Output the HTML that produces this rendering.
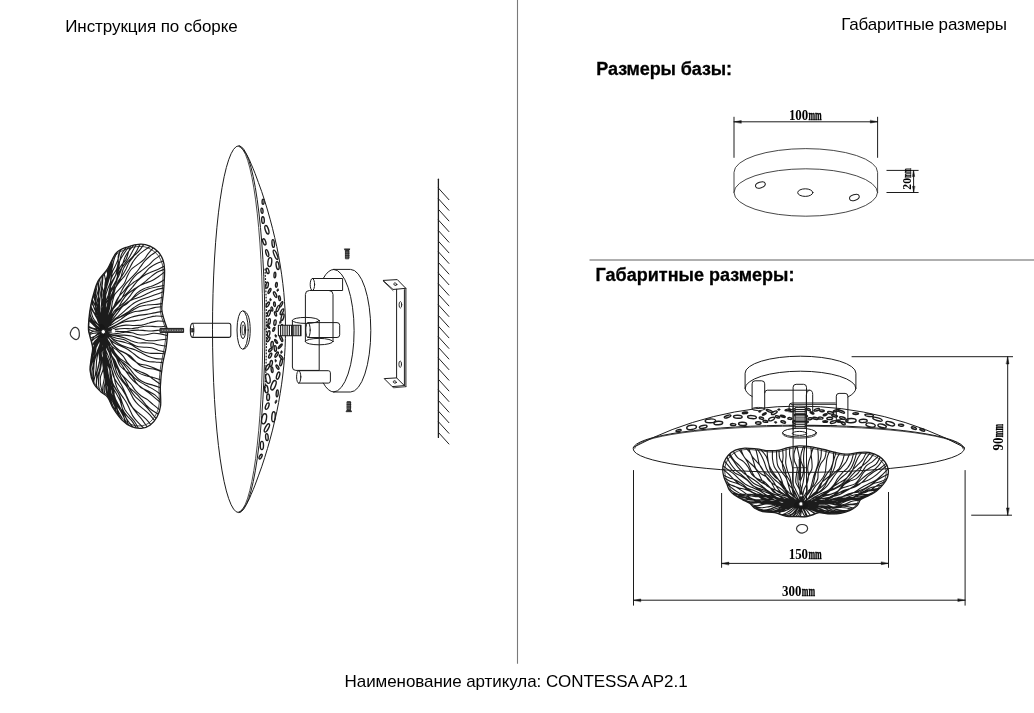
<!DOCTYPE html>
<html lang="ru"><head><meta charset="utf-8"><title>CONTESSA AP2.1</title>
<style>html,body{margin:0;padding:0;background:#fff}body{width:1034px;height:713px;overflow:hidden;position:relative}svg{position:absolute;left:0;top:0;display:block;will-change:transform}.g{fill:none;stroke:#1c1c1c;stroke-linecap:round;stroke-linejoin:round}text{font-family:"Liberation Sans",sans-serif;fill:#000}.s{font-family:"Liberation Serif",serif;font-weight:bold;font-size:13.5px}</style></head><body>
<svg width="1034" height="713" viewBox="0 0 1034 713">
<rect width="1034" height="713" fill="#fff"/>
<path d="M517.5 0V663.8" stroke="#7a7a7a" stroke-width="1.1" fill="none"/>
<path d="M589.5 260H1034" stroke="#606060" stroke-width="1.2" fill="none"/>
<g class="g">
<clipPath id="fc1"><path d="M140.6 244.1C144.4 244 147.1 244.9 150 246.2C152.9 247.5 155.9 249.5 158.1 251.8C160.3 254.1 161.9 257 163 260C164.1 263 164.5 264.8 164.6 270C164.7 275.2 164.1 284.4 163.6 291C163.1 297.6 161.7 304.3 161.8 309.3C162 314.3 163.6 317.4 164.5 321C165.4 324.6 167.2 326.7 167.5 331C167.8 335.3 167 341.1 166.2 346.8C165.4 352.5 163.5 358.5 162.5 365C161.5 371.5 160.7 379.2 160.4 386C160.1 392.8 161.2 400.5 160.6 405.7C160 410.9 158.8 413.7 157 417C155.2 420.3 152.6 423.4 150 425.3C147.4 427.2 144.4 428.1 141.3 428.3C138.2 428.5 134.8 428.1 131.5 426.7C128.2 425.3 124.7 422.7 121.7 419.7C118.7 416.7 115.6 412.2 113.3 408.5C111 404.8 109.8 400.1 107.7 397.3C105.6 394.5 103.1 394 100.7 391.7C98.3 389.4 95.4 386.8 93.6 383.3C91.8 379.8 90.5 374.9 90.1 370.7C89.7 366.5 90.9 361.8 91.3 358C91.7 354.2 92.8 351.7 92.6 348.2C92.4 344.7 90.8 340 90.1 337C89.4 334 88.7 333 88.5 330C88.3 327 88.5 323.2 88.9 319C89.3 314.8 90 309.2 90.8 305C91.6 300.8 92.4 297.8 93.6 293.9C94.8 289.9 95.6 285.5 97.9 281.3C100.2 277.1 104.7 273.3 107.7 268.6C110.7 263.9 112.7 256.8 116 253.2C119.3 249.6 123.2 248.5 127.3 247C131.4 245.5 136.8 244.2 140.6 244.1Z"/></clipPath>
<g clip-path="url(#fc1)"><path d="M103.5 331.7C103.6 330.4 103.5 326.4 104 324C104.5 321.5 105.7 319.4 106.5 317.1C107.3 314.8 108.4 312.6 109 310.2C109.6 307.8 109.7 305.2 110 302.7C110.4 300.2 110.6 297.6 111.4 295.3C112.1 293 113.5 290.9 114.8 288.8C116 286.7 117.7 284.7 118.8 282.6C119.9 280.4 120.6 278 121.4 275.7C122.1 273.4 122.4 270.8 123.5 268.6C124.5 266.4 125.9 264.3 127.4 262.3C128.9 260.4 131.1 258.6 132.7 256.6C134.3 254.7 135.7 252.6 136.9 250.5C138.1 248.3 139.5 245 140 243.9M103.5 331.7C103.8 330.5 104.7 326.8 105.2 324.3C105.6 321.8 105.9 319.2 106.3 316.7C106.7 314.1 106.8 311.5 107.5 309.1C108.2 306.7 109.4 304.5 110.4 302.2C111.4 300 112.5 297.8 113.3 295.4C114.1 293.1 114.5 290.5 115.3 288.2C116.1 285.8 117 283.5 118.2 281.4C119.4 279.2 121.2 277.3 122.5 275.2C123.8 273.1 125 270.9 126.2 268.7C127.3 266.5 128 264.1 129.3 262C130.6 259.9 132.3 258 134 256C135.7 254.1 137.9 252.4 139.5 250.4C141.2 248.4 143.2 245.3 143.9 244.3M103.5 331.7C103.6 330.4 103.7 326.1 104.2 323.6C104.8 321.1 106 318.9 106.8 316.5C107.7 314.1 108.6 311.8 109.3 309.3C110 306.9 110.3 304.2 110.9 301.7C111.4 299.1 111.8 296.5 112.5 294.1C113.3 291.7 114.3 289.4 115.6 287.2C116.8 285.1 118.5 283.1 120.1 281.2C121.7 279.2 123.5 277.3 125 275.3C126.5 273.2 127.8 271.1 129.1 269C130.3 266.8 131.3 264.5 132.6 262.4C134 260.3 135.3 258.2 137.1 256.3C138.8 254.4 141 252.7 143.2 251.1C145.4 249.4 149 247.1 150.2 246.4M103.5 331.7C103.6 330.3 103.7 326 104.4 323.5C105.1 321 106.6 318.9 107.7 316.7C108.8 314.4 110.2 312.4 111 310C111.8 307.5 111.8 304.6 112.4 302C113 299.5 113.5 296.8 114.7 294.6C115.9 292.4 118.1 290.8 119.7 288.9C121.3 287 123.3 285.2 124.5 283.1C125.8 280.9 126.3 278.3 127.4 276.1C128.5 273.8 129.4 271.4 131.1 269.5C132.7 267.6 135.3 266.3 137.4 264.6C139.6 263 142 261.6 143.8 259.7C145.6 257.9 146.6 255.6 148.2 253.6C149.7 251.7 152.3 248.9 153.2 247.9M103.5 331.7C103.9 330.5 105.1 326.8 105.8 324.3C106.6 321.8 107 319.1 108 316.8C108.9 314.4 110.2 312.3 111.4 310.1C112.7 307.9 114.2 306 115.4 303.8C116.7 301.6 117.8 299.4 118.8 297.1C119.9 294.8 120.7 292.4 121.9 290.2C123 287.9 124.3 285.8 125.8 283.8C127.3 281.8 129.2 280 130.9 278.2C132.6 276.4 134.5 274.6 136.1 272.7C137.7 270.8 139.1 268.7 140.6 266.7C142.1 264.7 143.4 262.6 145.1 260.7C146.8 258.9 148.7 257.2 150.7 255.5C152.8 253.9 156.2 251.7 157.3 250.9M103.5 331.7C103.8 330.4 104.7 326.5 105.6 324.1C106.5 321.7 107.8 319.6 108.9 317.4C110.1 315.2 111.3 313.1 112.3 310.8C113.3 308.5 114 305.9 115 303.6C116 301.3 117.2 299.1 118.5 297.1C119.9 295.1 121.8 293.4 123.4 291.6C124.9 289.7 126.5 287.8 128 285.8C129.4 283.8 130.5 281.6 132 279.7C133.5 277.7 135.1 275.9 136.9 274.2C138.7 272.5 141 271.2 143 269.6C145 268.1 147 266.5 148.9 264.9C150.7 263.2 152.3 261.3 154.2 259.7C156.1 258.1 159.5 256 160.5 255.3M103.5 331.7C104 330.6 105.8 327.4 106.7 325.1C107.6 322.7 108.1 320 108.9 317.6C109.8 315.2 110.5 312.7 111.8 310.6C113 308.5 114.8 306.9 116.3 305.1C117.8 303.3 119.6 301.6 120.9 299.6C122.3 297.6 123.2 295.3 124.4 293.2C125.6 291.1 126.6 288.9 128.2 287C129.7 285.2 131.8 283.8 133.7 282.3C135.7 280.9 138 279.7 139.8 278.1C141.7 276.6 143.2 274.8 144.9 273C146.5 271.3 147.9 269.3 149.7 267.7C151.6 266.2 153.9 265 156.2 263.8C158.5 262.6 162.5 261.3 163.7 260.8M103.5 331.7C104.1 330.5 105.9 327.1 107 324.7C108.1 322.3 109 319.7 109.9 317.2C110.9 314.7 111.6 312 112.7 309.6C113.9 307.3 115.2 305.1 116.8 303.1C118.3 301.2 120.2 299.5 122.1 297.8C123.9 296.1 125.9 294.5 127.6 292.7C129.4 290.9 130.9 289 132.6 287C134.2 285.1 135.6 283 137.3 281.2C139 279.4 140.9 277.7 143 276.2C145.1 274.8 147.6 273.7 150.1 272.6C152.6 271.4 155.3 270.5 157.8 269.4C160.3 268.3 163.8 266.4 165 265.8M103.5 331.7C104 330.5 105.2 326.5 106.3 324.3C107.5 322 109 320.1 110.4 318.1C111.9 316.2 113.6 314.5 115 312.5C116.5 310.5 117.8 308.4 119.1 306.3C120.4 304.2 121.5 301.9 122.9 299.9C124.3 297.8 125.7 295.9 127.5 294.2C129.2 292.5 131.2 291.1 133.3 289.7C135.3 288.3 137.6 287.2 139.6 285.8C141.6 284.4 143.6 282.9 145.5 281.4C147.4 279.8 149 278.1 151 276.6C152.9 275.1 154.8 273.6 157 272.3C159.2 271.1 163.1 269.8 164.3 269.3M103.5 331.7C104.1 330.7 106.3 327.8 107.4 325.5C108.5 323.3 109.1 320.6 110.2 318.3C111.3 316 112.3 313.7 113.7 311.8C115.2 309.9 117.1 308.4 118.8 306.9C120.6 305.4 122.7 304.1 124.4 302.5C126.1 300.9 127.7 299.1 129.1 297.2C130.6 295.4 131.7 293.1 133.3 291.3C134.8 289.6 136.5 287.9 138.4 286.5C140.4 285.2 142.9 284.3 145.2 283.3C147.5 282.3 150 281.6 152.2 280.5C154.4 279.4 156.4 278 158.3 276.7C160.3 275.3 163.1 273.1 164 272.4M103.5 331.7C104.2 330.7 106.6 327.9 108 325.7C109.3 323.6 110.3 321 111.6 318.8C112.8 316.5 114 314.1 115.6 312.3C117.1 310.4 119.2 309 121.1 307.6C123 306.1 125.3 305 127.1 303.5C129 301.9 130.6 300.1 132.3 298.4C134 296.6 135.4 294.5 137.2 292.9C139.1 291.3 141.1 290 143.4 288.9C145.6 287.9 148.4 287.3 150.8 286.5C153.2 285.6 155.7 284.8 157.9 283.6C160.2 282.5 163.2 280.5 164.2 279.8M103.5 331.7C104.2 330.5 106.4 327.1 107.8 324.7C109.2 322.3 110.4 319.7 111.8 317.5C113.3 315.2 114.8 313 116.6 311.1C118.3 309.2 120.3 307.6 122.3 306C124.3 304.4 126.5 303 128.6 301.5C130.6 300 132.6 298.4 134.7 296.9C136.7 295.4 138.7 293.7 140.9 292.4C143.1 291.1 145.5 290 148 289.1C150.5 288.2 153.3 287.6 156.1 287C158.8 286.3 163 285.6 164.4 285.3M103.5 331.7C104.2 330.5 106.1 326.8 107.6 324.7C109.1 322.6 111 321 112.7 319.1C114.3 317.2 115.9 315.1 117.5 313.1C119.1 311 120.5 308.8 122.2 306.9C123.9 305.1 125.7 303.4 127.8 302.1C129.9 300.7 132.3 299.8 134.6 298.8C136.9 297.9 139.4 297.2 141.8 296.2C144.1 295.2 146.3 294.1 148.6 293C150.9 292 153 290.7 155.4 289.9C157.9 289 161.9 288.4 163.3 288.1M103.5 331.7C104.3 330.7 106.4 327.3 108 325.4C109.6 323.6 111.5 321.9 113.3 320.3C115.1 318.7 117.1 317.4 118.9 315.8C120.8 314.3 122.6 312.7 124.4 311.1C126.2 309.5 128 307.7 129.9 306.2C131.8 304.8 133.7 303.3 135.8 302.1C137.9 301 140.2 300 142.5 299.1C144.8 298.3 147.2 297.6 149.6 296.8C151.9 296 154.3 295.2 156.6 294.3C158.9 293.5 162.3 292.1 163.5 291.7M103.5 331.7C104.4 330.7 107 327.7 108.9 325.8C110.7 323.9 112.5 321.9 114.6 320.3C116.6 318.7 118.9 317.6 121.1 316.3C123.3 314.9 125.5 313.7 127.6 312.3C129.7 310.8 131.7 309.1 133.8 307.7C136 306.3 138.1 304.9 140.4 303.8C142.8 302.8 145.4 302.2 147.9 301.5C150.5 300.8 153.1 300.3 155.7 299.5C158.2 298.8 161.8 297.4 163 297M103.5 331.7C104.4 330.7 106.9 327.7 108.7 325.8C110.5 323.9 112.2 321.9 114.1 320.4C116.1 319 118.4 318.1 120.5 317C122.7 315.8 124.9 314.9 127 313.8C129.1 312.6 131.1 311.1 133.2 309.9C135.3 308.7 137.3 307.3 139.6 306.5C141.9 305.7 144.4 305.3 146.9 305C149.5 304.6 152.2 304.8 154.8 304.5C157.4 304.3 161.2 303.7 162.4 303.6M103.5 331.7C104.4 330.8 107 327.9 108.9 326.4C110.8 325 113 324.1 115 322.9C117.1 321.7 119.1 320.4 121.1 319.1C123 317.7 124.9 316 126.9 314.9C128.9 313.7 131.1 312.7 133.3 312C135.6 311.4 138.1 311.3 140.4 310.9C142.8 310.5 145.2 310.1 147.5 309.6C149.8 309 151.9 308.1 154.3 307.6C156.6 307.2 160.3 307 161.5 306.8M103.5 331.7C104.6 331 107.9 328.7 110.2 327.5C112.5 326.3 115 325.5 117.3 324.3C119.6 323.2 121.9 321.8 124.2 320.6C126.5 319.4 128.8 318.1 131.2 317.3C133.7 316.4 136.2 315.9 138.8 315.4C141.3 315 144 314.8 146.6 314.4C149.1 314 151.6 313.4 154.2 312.9C156.7 312.4 160.6 311.6 161.9 311.4M103.5 331.7C104.7 331.2 108.3 329.9 110.7 328.6C113 327.4 115.2 325.6 117.5 324.4C119.9 323.3 122.3 322.3 124.8 321.7C127.3 321.1 130 321.2 132.5 320.9C135.1 320.6 137.7 320.5 140.2 320C142.7 319.4 145.1 318.5 147.6 317.8C150.1 317.2 152.5 316.3 155.1 316.1C157.7 315.8 161.8 316.4 163.1 316.4M103.5 331.7C104.8 331.4 108.6 330.6 111 329.7C113.5 328.8 115.9 327.1 118.4 326.4C120.9 325.6 123.4 325.3 126 325.1C128.6 325 131.3 325.5 134 325.5C136.6 325.5 139.2 325.5 141.7 325.1C144.3 324.6 146.8 323.6 149.3 323C151.8 322.3 154.3 321.3 156.8 321.1C159.4 320.8 163.4 321.3 164.7 321.4M103.5 331.7C104.7 331.6 108.2 331.3 110.5 330.9C112.8 330.5 115 329.5 117.3 329.1C119.7 328.7 122 328.6 124.3 328.5C126.7 328.4 129 328.8 131.4 328.7C133.7 328.5 136 328 138.3 327.6C140.6 327.2 142.9 326.5 145.2 326.3C147.6 326 149.9 326.3 152.3 326.4C154.7 326.5 157 326.9 159.4 326.8C161.7 326.8 165.2 326.1 166.3 326M103.5 331.7C104.7 331.6 108.2 331.1 110.6 331C113 331 115.3 331.3 117.7 331.4C120.1 331.5 122.5 331.7 124.8 331.5C127.2 331.4 129.5 330.8 131.9 330.5C134.3 330.3 136.6 330 139 330.1C141.4 330.1 143.7 330.6 146.1 330.7C148.5 330.9 150.9 331 153.2 330.9C155.6 330.8 158 330.2 160.3 330C162.7 329.8 166.2 329.8 167.4 329.7M103.5 331.7C104.7 331.9 108.2 332.5 110.6 332.8C112.9 333.1 115.3 333.6 117.7 333.4C120.1 333.3 122.5 332.3 124.9 332.2C127.2 332 129.6 332.3 132 332.7C134.3 333.1 136.6 334.4 139 334.7C141.4 335.1 143.7 335 146.1 334.7C148.5 334.5 150.9 333.5 153.3 333.3C155.7 333.2 158.1 333.5 160.4 333.9C162.8 334.3 166.3 335.4 167.5 335.7M103.5 331.7C104.6 332.1 108 333.8 110.3 334.3C112.7 334.9 115 335 117.4 335.2C119.8 335.3 122.2 335 124.6 335.1C127 335.3 129.4 335.5 131.7 336C134 336.5 136.3 337.4 138.6 338.1C140.9 338.8 143.2 339.7 145.5 340.2C147.8 340.6 150.2 340.9 152.6 340.8C155 340.8 157.5 340.3 159.9 340C162.4 339.7 166 339.1 167.2 339M103.5 331.7C104.6 332.2 107.9 334.1 110.1 334.8C112.4 335.5 114.8 335.6 117.2 336.1C119.5 336.6 121.9 337 124.1 337.8C126.4 338.6 128.6 339.9 130.8 340.7C133.1 341.6 135.3 342.4 137.7 342.8C140.1 343.1 142.6 342.8 145 342.9C147.4 343 149.9 342.9 152.2 343.2C154.6 343.6 156.8 344.5 159.2 345C161.5 345.5 165 346 166.2 346.2M103.5 331.7C104.5 332.4 107.6 334.6 109.8 335.7C112 336.8 114.3 337.5 116.6 338.2C118.9 338.8 121.4 338.8 123.7 339.6C125.9 340.4 128 341.9 130.2 343C132.3 344.1 134.4 345.6 136.7 346.3C139 347 141.5 346.9 144 347.2C146.4 347.4 149 347.2 151.4 347.7C153.7 348.2 155.9 349.4 158.1 350.2C160.4 350.9 163.9 351.8 165.1 352.2M103.5 331.7C104.5 332.5 107.4 335.1 109.4 336.5C111.5 337.9 113.5 339.3 115.8 340.2C118 341.1 120.6 341.3 122.9 341.9C125.2 342.6 127.6 343.1 129.8 344.1C132.1 345.1 134.1 346.5 136.2 347.8C138.3 349 140.3 350.5 142.6 351.4C144.8 352.4 147.2 352.9 149.7 353.2C152.1 353.6 154.8 353.3 157.4 353.3C160 353.4 163.8 353.7 165 353.7M103.5 331.7C104.5 332.5 107.6 334.6 109.5 336.2C111.4 337.9 113.2 340 115.2 341.5C117.2 343 119.3 344.3 121.5 345.3C123.7 346.4 126.1 346.9 128.5 347.7C130.8 348.5 133.2 349.1 135.5 350C137.8 350.9 139.9 352.1 142.1 353.2C144.3 354.3 146.4 355.6 148.6 356.5C150.9 357.4 153.3 358.2 155.8 358.6C158.3 359 162.3 358.9 163.6 359M103.5 331.7C104.3 332.8 106.8 336.1 108.6 338C110.4 339.9 112.3 341.7 114.4 343C116.5 344.4 118.9 345.1 121.2 346.2C123.5 347.2 125.8 348.2 127.9 349.5C130 350.8 132 352.5 134 354C136 355.5 137.9 357.3 140.1 358.5C142.3 359.7 144.6 360.6 147.2 361.2C149.7 361.8 152.5 361.8 155.2 362C157.9 362.3 162 362.7 163.3 362.9M103.5 331.7C104.4 332.7 107.2 335.6 108.8 337.8C110.5 339.9 111.7 342.8 113.4 344.9C115.1 346.9 117.1 348.7 119.2 350.2C121.3 351.7 123.9 352.4 126.1 353.9C128.2 355.4 129.9 357.4 132 359C134.1 360.6 136 362.3 138.4 363.4C140.8 364.5 143.8 364.6 146.5 365.3C149.1 366.1 151.6 366.9 154.1 367.9C156.5 368.8 160.1 370.5 161.3 371.1M103.5 331.7C104.3 332.6 107 335 108.4 337C109.9 339.1 110.8 341.8 112.3 343.8C113.8 345.8 115.4 347.7 117.3 349.1C119.3 350.5 121.7 351.1 123.8 352.2C125.9 353.4 128.1 354.4 130 355.8C131.9 357.2 133.4 359.3 135.1 360.9C136.8 362.6 138.4 364.5 140.4 365.7C142.5 366.9 144.9 367.6 147.4 368.2C149.8 368.8 152.7 368.8 155.2 369.5C157.6 370.1 161 371.5 162.1 371.9M103.5 331.7C104.1 332.9 105.9 336.6 107.2 338.9C108.5 341.2 110 343.4 111.3 345.7C112.6 348 113.6 350.8 115 352.9C116.5 355.1 118.2 356.9 120.1 358.6C121.9 360.2 124.3 361.4 126.3 362.9C128.3 364.3 130.2 366 132.1 367.6C134.1 369.1 135.7 371.1 137.9 372.4C140 373.7 142.5 374.7 145.1 375.5C147.6 376.4 150.6 376.7 153.3 377.5C155.9 378.2 159.7 379.5 161 380M103.5 331.7C104.1 332.9 105.8 336.8 107.1 339.2C108.4 341.5 109.6 344 111.4 345.9C113.1 347.8 115.5 348.9 117.4 350.6C119.4 352.3 121.3 353.9 122.9 355.9C124.6 357.9 125.7 360.5 127.3 362.5C128.9 364.5 130.5 366.6 132.6 368.1C134.7 369.6 137.4 370.4 139.8 371.5C142.3 372.6 145 373.4 147.3 374.7C149.5 376 151.4 377.8 153.4 379.3C155.5 380.8 158.6 383 159.7 383.8M103.5 331.7C104.1 332.8 106.1 336 107.2 338.4C108.2 340.8 108.8 343.6 109.8 346.1C110.8 348.6 111.6 351.2 113 353.3C114.3 355.4 116.1 357.1 117.9 358.8C119.7 360.4 121.9 361.7 123.8 363.2C125.7 364.8 127.6 366.4 129.2 368.2C130.9 370 132.2 372.2 133.8 374C135.4 375.9 136.9 377.9 138.8 379.3C140.8 380.8 143.1 382 145.6 383C148.1 384 151 384.5 153.6 385.4C156.3 386.2 160.1 387.6 161.4 388M103.5 331.7C104 332.8 105.6 336.2 106.5 338.5C107.5 340.8 108.1 343.4 109.1 345.6C110.2 347.9 111.4 350 112.7 351.9C114.1 353.8 115.8 355.5 117.3 357.2C118.9 359 120.6 360.6 122.1 362.4C123.7 364.2 125.1 366.1 126.5 368C127.9 369.8 129.2 371.9 130.7 373.7C132.2 375.5 133.7 377.3 135.5 378.8C137.4 380.3 139.4 381.6 141.6 382.9C143.7 384.1 146 385.2 148.2 386.4C150.3 387.6 152.5 388.8 154.6 390.1C156.6 391.4 159.5 393.5 160.5 394.2M103.5 331.7C103.9 333 104.7 337.2 105.6 339.6C106.6 342 107.9 344.1 109.4 346.1C110.8 348.2 112.8 349.7 114.1 351.9C115.3 354 116 356.7 117 359C118 361.4 118.7 364.1 120.2 366C121.7 368 124 369.3 125.9 370.9C127.8 372.5 130.1 373.9 131.7 375.7C133.4 377.6 134.3 380 135.8 382C137.3 383.9 138.7 386 140.8 387.5C142.8 389 145.7 389.8 148.1 391C150.4 392.3 152.9 393.4 154.9 394.9C156.9 396.5 159.3 399.3 160.2 400.2M103.5 331.7C104 332.9 105.5 336.6 106.4 339.1C107.4 341.5 108.1 344.2 109.2 346.6C110.2 348.9 111.5 351.1 112.9 353.2C114.3 355.3 116 357.2 117.5 359.2C119.1 361.2 120.6 363.2 122.1 365.3C123.5 367.3 124.8 369.6 126.2 371.7C127.6 373.7 128.9 375.9 130.6 377.9C132.2 379.8 134 381.6 135.9 383.2C137.8 384.9 140 386.4 142.1 387.9C144.2 389.4 146.4 390.9 148.5 392.5C150.5 394.1 152.4 395.8 154.3 397.4C156.3 399.1 159.3 401.5 160.3 402.3M103.5 331.7C103.9 332.9 105.3 336.5 106 339C106.7 341.6 106.9 344.4 107.7 346.9C108.4 349.4 109.4 351.7 110.6 353.9C111.8 356.1 113.5 357.9 114.7 360.1C115.9 362.3 116.7 364.7 117.8 366.9C118.9 369.2 119.7 371.6 121.1 373.7C122.5 375.7 124.5 377.3 126.2 379.1C127.9 380.9 129.8 382.6 131.3 384.5C132.8 386.5 133.9 388.8 135.5 390.6C137.1 392.5 139 394.1 141 395.7C143.1 397.3 145.7 398.4 147.8 399.9C149.8 401.5 151.6 403.3 153.5 404.9C155.5 406.5 158.5 408.9 159.4 409.7M103.5 331.7C103.7 333 104.3 336.8 104.8 339.3C105.3 341.8 105.7 344.4 106.5 346.7C107.3 349 108.4 351.1 109.5 353.2C110.6 355.3 112 357.2 113.1 359.3C114.2 361.3 115.3 363.5 116.3 365.6C117.2 367.8 118 370.2 118.9 372.4C119.9 374.6 120.7 376.8 121.9 378.9C123.2 380.9 124.6 382.8 126.2 384.5C127.8 386.3 129.7 387.8 131.5 389.5C133.3 391.1 135.2 392.7 136.9 394.4C138.6 396.1 140.1 397.9 141.7 399.6C143.2 401.4 144.6 403.4 146.2 405.1C147.9 406.8 149.6 408.5 151.6 410C153.6 411.5 157.1 413.4 158.2 414.1M103.5 331.7C103.8 332.9 104.7 336.6 105.6 338.9C106.4 341.2 107.7 343.3 108.6 345.5C109.5 347.8 110.1 350.2 110.9 352.6C111.6 355 112 357.6 112.9 359.9C113.7 362.2 114.6 364.4 115.8 366.5C117 368.6 118.6 370.5 120 372.4C121.4 374.4 122.9 376.3 124.2 378.3C125.5 380.4 126.5 382.5 127.7 384.7C128.8 386.8 129.7 389.1 131.1 391.1C132.4 393.1 133.9 395 135.5 396.8C137.2 398.6 139.3 400.2 141.1 401.9C142.9 403.6 144.8 405.2 146.5 407C148.2 408.8 149.6 410.8 151.2 412.6C152.7 414.5 155.1 417.2 155.9 418.2M103.5 331.7C103.7 333 104.3 336.9 104.8 339.4C105.3 341.9 105.8 344.5 106.6 346.8C107.5 349.1 108.9 351.1 110 353.3C111 355.5 112.1 357.7 113 360.1C113.8 362.4 114.2 365 115 367.3C115.8 369.7 116.4 372.2 117.5 374.3C118.6 376.5 120.2 378.4 121.7 380.4C123.2 382.4 125 384.1 126.4 386.1C127.8 388.1 129 390.3 130.2 392.4C131.4 394.5 132.2 396.9 133.5 398.9C134.9 401 136.4 402.9 138.2 404.7C140 406.5 142.3 408 144.2 409.7C146.2 411.4 148.2 413 149.9 414.8C151.6 416.7 153.8 419.6 154.6 420.6M103.5 331.7C103.6 333.1 103.6 337.2 103.8 339.9C104.1 342.5 104.2 345.2 104.9 347.7C105.5 350.2 106.8 352.3 107.7 354.6C108.6 357 109.6 359.2 110.3 361.7C110.9 364.1 111.1 366.8 111.7 369.3C112.3 371.8 112.6 374.4 113.6 376.7C114.6 379 116 381.1 117.4 383.1C118.8 385.2 120.7 387 122.1 389.1C123.5 391.2 124.7 393.4 125.9 395.6C127 397.8 127.7 400.2 129 402.4C130.2 404.5 131.6 406.6 133.4 408.5C135.2 410.4 137.5 411.9 139.6 413.7C141.7 415.4 143.9 417.1 145.8 418.9C147.7 420.7 150 423.8 150.8 424.7M103.5 331.7C103.7 333 104.2 336.9 104.8 339.3C105.4 341.8 106.4 344.1 107.1 346.5C107.9 348.9 108.8 351.2 109.5 353.6C110.2 356.1 110.7 358.6 111.4 361C112 363.5 112.5 366 113.3 368.3C114.1 370.7 115 373 116 375.3C117.1 377.6 118.4 379.7 119.6 381.9C120.8 384.1 122.1 386.2 123.2 388.5C124.3 390.7 125.3 393 126.3 395.3C127.4 397.5 128.3 399.9 129.4 402.1C130.6 404.3 131.8 406.5 133.2 408.6C134.7 410.7 136.4 412.6 137.9 414.7C139.5 416.7 141.3 418.6 142.8 420.7C144.3 422.7 146.4 425.9 147.2 426.9M103.5 331.7C103.7 332.9 104.6 336.6 105 339.1C105.3 341.7 105.4 344.3 105.6 346.9C105.8 349.5 105.7 352.2 106.2 354.7C106.6 357.2 107.5 359.5 108.4 361.8C109.3 364.2 110.6 366.3 111.5 368.6C112.4 370.9 113.2 373.3 113.8 375.7C114.4 378.1 114.7 380.7 115.4 383.1C116.1 385.5 116.9 387.9 118.1 390.1C119.2 392.3 120.9 394.3 122.3 396.4C123.7 398.5 125.3 400.5 126.5 402.7C127.8 404.9 128.6 407.2 129.7 409.4C130.8 411.7 131.6 414 132.9 416.1C134.3 418.3 136 420.3 137.7 422.2C139.5 424.2 142.6 426.9 143.6 427.9M103.5 331.7C103.7 332.9 104.4 336.6 104.6 339.1C104.8 341.6 104.5 344.3 104.6 346.9C104.7 349.4 104.8 352 105.2 354.4C105.7 356.9 106.8 359.1 107.6 361.4C108.4 363.7 109.4 365.9 109.9 368.3C110.5 370.7 110.6 373.3 111.1 375.7C111.5 378.2 111.9 380.6 112.7 382.9C113.6 385.2 115 387.3 116.2 389.5C117.4 391.6 118.9 393.7 119.9 395.9C120.9 398.2 121.4 400.6 122.3 402.9C123.2 405.1 123.8 407.5 125 409.7C126.3 411.8 128 413.8 129.6 415.8C131.2 417.8 133.1 419.7 134.6 421.8C136 423.9 137.7 427.2 138.3 428.3M103.5 331.7C103.6 332.9 104.2 336.5 104.2 339.1C104.2 341.6 103.3 344.4 103.5 346.9C103.7 349.4 104.5 351.6 105.3 353.9C106.1 356.2 107.6 358.2 108.4 360.5C109.1 362.8 109.6 365.2 109.9 367.6C110.2 370 109.7 372.7 110 375.2C110.2 377.6 110.6 380 111.5 382.3C112.4 384.5 114.1 386.5 115.4 388.6C116.7 390.7 118.3 392.7 119.2 395C120.2 397.2 120.4 399.6 121 402C121.5 404.3 121.6 406.8 122.6 409.1C123.5 411.3 125 413.3 126.6 415.4C128.1 417.4 130.4 419.2 132 421.2C133.6 423.2 135.4 426.4 136 427.5M103.5 331.7C103.6 332.9 104.3 336.4 104.4 338.9C104.5 341.3 104 343.9 104.1 346.4C104.1 348.8 104.2 351.3 104.7 353.6C105.2 355.9 106.2 358.1 107 360.3C107.7 362.6 108.7 364.8 109.2 367.1C109.8 369.4 110 371.8 110.3 374.2C110.6 376.5 110.6 379 111.1 381.3C111.6 383.7 112.3 385.9 113.3 388.1C114.2 390.3 115.7 392.3 116.8 394.5C118 396.6 119.2 398.7 120.1 400.9C120.9 403.1 121.4 405.4 122.1 407.7C122.8 410 123.2 412.3 124.2 414.5C125.2 416.7 126.5 418.8 127.9 420.8C129.3 422.8 131.9 425.8 132.7 426.8M103.5 331.7C103.4 333 102.8 337.1 102.7 339.7C102.7 342.3 102.4 345 102.9 347.5C103.4 349.9 105.1 352.1 105.7 354.5C106.3 356.9 106.5 359.5 106.6 362.1C106.6 364.7 105.7 367.5 105.9 370.1C106.1 372.6 106.8 375 107.8 377.3C108.8 379.7 110.8 381.7 111.9 384C112.9 386.3 113.5 388.8 113.9 391.2C114.4 393.7 113.9 396.5 114.6 398.9C115.2 401.3 116.5 403.5 117.9 405.7C119.4 407.9 121.9 409.8 123.3 412C124.7 414.2 125.7 416.6 126.5 418.9C127.4 421.3 128.2 425 128.5 426.2M103.5 331.7C103.4 333 103 336.9 103 339.4C103.1 341.9 103.7 344.2 104 346.7C104.3 349.1 104.7 351.6 104.9 354C105 356.5 104.8 359.1 105 361.6C105.1 364.1 105.1 366.6 105.6 369C106.1 371.4 106.9 373.7 107.7 376C108.5 378.3 109.6 380.6 110.3 382.9C111 385.3 111.4 387.7 112 390.1C112.5 392.5 112.8 394.9 113.6 397.2C114.3 399.6 115.3 401.8 116.4 404.1C117.5 406.3 119.1 408.4 120.3 410.6C121.6 412.9 122.8 415.1 123.9 417.3C124.9 419.6 126.2 423 126.7 424.2M103.5 331.7C103.7 332.9 104.7 336.4 104.9 338.8C105.1 341.2 104.7 343.8 104.6 346.2C104.6 348.7 104.3 351.3 104.5 353.7C104.8 356.1 105.4 358.4 106.1 360.7C106.8 363 108 365.2 108.8 367.4C109.7 369.7 110.5 372 111.1 374.3C111.6 376.7 111.7 379.1 112 381.5C112.2 383.9 112.1 386.4 112.4 388.8C112.8 391.2 113.2 393.6 114 395.8C114.8 398.1 116.1 400.3 117.3 402.5C118.4 404.7 119.9 406.8 120.9 409C122 411.2 122.9 413.5 123.6 415.8C124.3 418.1 124.8 421.6 125.1 422.8M103.5 331.7C103.4 332.9 102.6 336.7 102.6 339.1C102.7 341.5 103.2 343.7 103.7 346C104.2 348.3 105.1 350.5 105.6 352.8C106 355.1 106.3 357.4 106.4 359.8C106.5 362.2 106.2 364.6 106.2 367C106.2 369.4 106 371.9 106.2 374.2C106.5 376.6 107 378.8 107.7 381.1C108.5 383.3 109.7 385.4 110.8 387.6C111.8 389.8 113.1 391.9 113.9 394.1C114.8 396.3 115.5 398.5 116 400.8C116.5 403.1 116.7 405.5 117.1 407.8C117.5 410.1 117.9 412.4 118.7 414.6C119.5 416.8 121.3 420 121.9 421.1M103.5 331.7C103.7 332.9 104.2 336.6 104.5 339C104.7 341.5 105 343.9 104.8 346.5C104.7 349 103.9 351.7 103.7 354.2C103.4 356.8 103.1 359.3 103.4 361.8C103.7 364.2 104.5 366.6 105.3 368.9C106.2 371.3 107.5 373.5 108.3 375.8C109.1 378.2 109.8 380.6 110.2 383C110.6 385.4 110.4 388 110.6 390.4C110.8 392.9 110.7 395.4 111.3 397.8C111.9 400.2 112.9 402.5 114 404.8C115.2 407.1 117 409.2 118.4 411.4C119.7 413.7 121.5 417.1 122.1 418.2M103.5 331.7C103.6 332.9 103.7 336.5 103.9 338.9C104.1 341.3 104.7 343.6 104.8 346C104.9 348.4 104.5 350.9 104.5 353.3C104.4 355.8 104.3 358.2 104.7 360.6C105 363 105.8 365.2 106.4 367.5C107 369.9 107.9 372.1 108.3 374.5C108.8 376.8 108.8 379.2 109.1 381.6C109.3 384 109.3 386.4 109.7 388.8C110.2 391.1 111.1 393.4 112 395.7C112.8 397.9 114.1 400.1 114.9 402.4C115.7 404.7 116.2 407 116.8 409.3C117.3 411.7 117.9 415.2 118.1 416.4M103.5 331.7C103.6 332.9 104.1 336.7 104.3 339.2C104.5 341.6 104.6 344.2 104.6 346.7C104.7 349.2 104.4 351.8 104.5 354.3C104.7 356.8 105.1 359.2 105.5 361.7C106 364.1 106.9 366.5 107.4 369C107.8 371.4 108.2 373.9 108.4 376.4C108.7 378.9 108.6 381.4 108.9 383.9C109.2 386.3 109.7 388.8 110.4 391.2C111.1 393.6 112.2 396 112.9 398.4C113.6 400.8 114.3 403.2 114.8 405.7C115.3 408.1 115.7 411.8 115.9 413.1M103.5 331.7C103.4 332.9 103 336.7 102.9 339.1C102.8 341.6 102.6 344.1 103 346.5C103.3 348.9 104.2 351.2 104.8 353.6C105.4 355.9 106.2 358.2 106.6 360.6C107 363 107.2 365.5 107.2 367.9C107.2 370.3 106.9 372.8 106.9 375.3C106.9 377.7 106.8 380.2 107.1 382.6C107.5 385 108.2 387.3 109 389.7C109.8 392 111 394.3 111.9 396.6C112.8 398.9 113.7 401.2 114.3 403.6C114.9 406 115.2 409.6 115.4 410.8M103.5 331.7C103.5 332.9 103.7 336.4 103.7 338.8C103.7 341.2 103.2 343.7 103.4 346C103.6 348.4 104.6 350.6 105 352.9C105.5 355.3 106.1 357.6 106.3 359.9C106.4 362.3 105.9 364.7 106 367.1C106 369.5 106 371.9 106.4 374.2C106.8 376.5 108 378.8 108.6 381.1C109.2 383.4 109.9 385.7 110.1 388C110.4 390.4 110 392.8 110.3 395.2C110.5 397.5 110.7 399.9 111.4 402.2C112 404.5 113.7 407.8 114.1 408.9M103.5 331.7C103.4 333 103 336.8 103.1 339.3C103.1 341.7 103.6 344.2 103.8 346.7C104 349.2 104.1 351.6 104.2 354.1C104.2 356.6 104 359.2 104 361.7C103.9 364.2 103.8 366.7 104 369.2C104.2 371.6 104.6 374.1 105.1 376.5C105.6 379 106.4 381.4 107.1 383.8C107.7 386.2 108.5 388.7 109 391.1C109.5 393.5 109.9 396 110.3 398.5C110.7 400.9 111.2 404.6 111.4 405.8M103.5 331.7C103.4 332.9 102.6 336.6 102.7 339C102.8 341.4 103.4 343.8 103.8 346.2C104.3 348.5 105.2 350.9 105.4 353.2C105.6 355.6 105.3 358.1 105.1 360.5C104.9 363 104.2 365.4 104.3 367.9C104.3 370.3 104.8 372.6 105.4 375C106 377.3 107.3 379.6 107.9 382C108.6 384.3 109.1 386.7 109.3 389.1C109.4 391.5 108.9 394 109 396.4C109 398.8 109.5 402.4 109.6 403.6M103.5 331.7C103.5 332.9 103.5 336.4 103.4 338.8C103.2 341.1 102.8 343.5 102.7 345.9C102.7 348.3 102.7 350.6 102.9 353C103.1 355.3 103.6 357.6 103.9 359.9C104.3 362.2 104.8 364.6 105.1 366.9C105.4 369.2 105.5 371.5 105.7 373.9C105.8 376.2 105.7 378.6 105.9 380.9C106 383.3 106.2 385.6 106.6 387.9C107 390.3 107.6 392.6 108.2 394.8C108.8 397.1 110.1 400.6 110.4 401.7M103.5 331.7C103.5 333 103.4 336.8 103.5 339.3C103.7 341.8 104.4 344.2 104.6 346.8C104.7 349.3 104.6 351.8 104.4 354.3C104.2 356.9 103.7 359.4 103.6 362C103.4 364.5 103.4 367 103.6 369.5C103.9 372 104.6 374.5 105.3 377C105.9 379.5 106.8 381.9 107.4 384.4C108 386.9 108.4 389.3 108.6 391.9C108.9 394.4 108.8 398.1 108.8 399.4M103.5 331.7C103.5 332.9 103.4 336.6 103.5 339C103.7 341.4 104.3 343.8 104.4 346.2C104.4 348.6 104 351.1 103.9 353.5C103.7 355.9 103.4 358.4 103.5 360.8C103.7 363.2 104.4 365.6 104.8 368C105.2 370.4 105.8 372.8 105.9 375.2C106 377.6 105.7 380 105.7 382.5C105.7 384.9 105.6 387.3 105.9 389.7C106.2 392.1 107.3 395.7 107.6 396.9M103.5 331.7C103.5 332.9 103.5 336.4 103.8 338.8C104 341.1 105 343.5 105 345.8C105 348.2 104.2 350.6 103.8 352.9C103.4 355.3 102.7 357.7 102.7 360.1C102.8 362.4 103.6 364.8 104.1 367.1C104.6 369.4 105.7 371.8 105.9 374.1C106.1 376.5 105.7 378.9 105.4 381.2C105.1 383.6 104.2 386 104.2 388.4C104.1 390.7 105 394.2 105.1 395.4M103.5 331.7C103.4 333 102.8 336.9 102.9 339.5C103.1 342 104 344.6 104.1 347.2C104.3 349.8 104.2 352.4 104 355C103.7 357.5 102.8 360.1 102.7 362.7C102.7 365.3 103.4 367.9 103.6 370.5C103.9 373.1 104.4 375.6 104.3 378.2C104.1 380.8 103.1 383.4 102.9 386C102.6 388.6 102.9 392.4 102.9 393.7M103.5 331.7C103.6 333 104.5 336.8 104.3 339.3C104.2 341.8 103.2 344.3 102.6 346.8C102.1 349.3 101.1 351.7 101.2 354.2C101.2 356.8 102.7 359.3 103 361.9C103.3 364.4 103.5 366.9 103.1 369.4C102.7 371.9 101 374.4 100.5 376.9C100.1 379.4 100.2 381.9 100.5 384.4C100.8 386.9 102.1 390.8 102.4 392M103.5 331.7C103.3 332.9 102.9 336.5 102.5 338.9C102.1 341.4 101.3 343.7 101 346.2C100.8 348.6 101.1 351 101.3 353.5C101.4 355.9 101.8 358.4 101.7 360.9C101.6 363.3 101.1 365.7 100.7 368.1C100.2 370.5 99.3 372.9 99 375.3C98.6 377.7 98.4 380.1 98.5 382.6C98.5 385 99.1 388.7 99.3 390M103.5 331.7C103.3 332.9 102.8 336.4 102.3 338.7C101.8 341.1 100.6 343.3 100.3 345.7C99.9 348 100 350.4 100.1 352.8C100.2 355.2 100.7 357.7 100.8 360.1C100.8 362.5 100.7 364.8 100.2 367.2C99.8 369.5 98.8 371.8 98.2 374.1C97.6 376.4 96.8 378.7 96.6 381.1C96.3 383.5 96.7 387.1 96.7 388.3M103.5 331.7C103.2 333 102.2 336.9 101.9 339.5C101.5 342.1 101.6 344.8 101.4 347.4C101.2 350.1 101.1 352.7 100.7 355.3C100.3 358 99.6 360.5 99 363.1C98.5 365.7 97.7 368.3 97.3 370.9C96.8 373.5 96.6 376.1 96.5 378.8C96.3 381.4 96.3 385.4 96.3 386.8M103.5 331.7C103.2 333 102.4 336.7 101.8 339.2C101.1 341.7 99.8 344.1 99.3 346.6C98.9 349.2 99.2 351.8 99.2 354.4C99.3 357 99.7 359.7 99.5 362.3C99.2 364.9 98.5 367.3 97.7 369.8C96.9 372.3 95.5 374.7 94.8 377.1C94 379.6 93.5 383.4 93.3 384.7M103.5 331.7C103.3 332.9 102.8 336.6 102.3 339C101.8 341.5 101.2 343.9 100.5 346.3C99.8 348.6 98.7 350.9 98 353.3C97.4 355.7 96.9 358.1 96.6 360.6C96.3 363.1 96.4 365.6 96.2 368.1C95.9 370.6 95.7 373 95.2 375.5C94.6 377.9 93.4 381.4 93.1 382.6M103.5 331.7C103.2 332.8 102.4 336.3 101.7 338.6C101.1 340.9 100.4 343.2 99.5 345.4C98.7 347.7 97.6 349.8 96.9 352.1C96.1 354.3 95.3 356.6 94.8 358.9C94.3 361.2 94 363.6 93.8 366C93.6 368.4 93.7 370.9 93.6 373.3C93.5 375.7 93.2 379.3 93.1 380.5M103.5 331.7C103.2 333 102.4 336.9 101.8 339.5C101.3 342.1 100.9 344.7 100 347.2C99.1 349.7 97.5 352 96.6 354.5C95.6 357 94.8 359.5 94.3 362.1C93.8 364.7 94 367.5 93.7 370.2C93.4 372.8 92.7 376.8 92.5 378.1M103.5 331.7C103.1 332.9 101.8 336.5 101.2 339C100.5 341.4 100.3 344 99.6 346.4C98.8 348.9 97.8 351.2 96.8 353.6C95.9 356 94.8 358.3 94.1 360.7C93.4 363.2 93 365.7 92.6 368.2C92.2 370.8 91.7 374.6 91.5 375.9M103.5 331.7C103 332.8 101.4 336.1 100.8 338.4C100.1 340.8 100.2 343.3 99.6 345.7C99 348 98.2 350.3 97.2 352.5C96.3 354.7 94.8 356.8 93.8 359C92.8 361.2 91.8 363.5 91.2 365.8C90.7 368.2 90.6 372 90.5 373.2M103.5 331.7C102.8 332.9 100.7 336.4 99.5 338.8C98.3 341.2 97.2 343.6 96.4 346.2C95.7 348.8 95.7 351.6 95 354.2C94.4 356.8 93.4 359.3 92.4 361.8C91.4 364.3 89.7 368 89.2 369.2M103.5 331.7C103 332.9 101.7 336.4 100.6 338.7C99.5 340.9 98.2 343.1 97.1 345.4C96 347.7 94.8 349.9 94 352.3C93.1 354.6 92.5 357.1 91.9 359.5C91.3 362 90.7 365.8 90.5 367.1M103.5 331.7C102.9 332.7 101.3 335.9 100.1 337.9C98.9 340 97.5 341.9 96.5 344.1C95.5 346.2 94.9 348.5 94.3 350.7C93.7 353 93.4 355.4 92.8 357.7C92.3 360 91.2 363.4 90.9 364.6M103.5 331.7C102.8 332.9 100.6 336.5 99.2 338.9C97.7 341.3 95.8 343.6 94.8 346.1C93.7 348.7 93.2 351.5 92.6 354.3C92.1 357.1 91.7 361.5 91.6 362.9M103.5 331.7C102.8 332.8 100.6 336 99.4 338.3C98.3 340.5 97.6 343 96.8 345.4C95.9 347.8 95.4 350.4 94.4 352.7C93.5 355.1 91.6 358.5 91.1 359.6M103.5 331.7C103 332.8 101.7 336.2 100.5 338.3C99.3 340.4 97.6 342.3 96.3 344.4C95 346.5 93.5 348.5 92.6 350.7C91.7 353 91.1 356.7 90.8 357.9M103.5 331.7C102.7 332.9 100.5 336.6 98.9 339.1C97.3 341.5 95.2 343.7 94 346.3C92.9 348.9 92.2 353.5 91.9 354.9M103.5 331.7C102.8 332.8 100.4 335.9 99.2 338.1C98 340.4 97.2 342.9 96 345.2C94.9 347.5 92.9 350.8 92.3 351.9M103.5 331.7C102.7 332.6 100.1 335 98.7 336.9C97.3 338.7 96.1 340.7 95.2 342.8C94.3 345 93.6 348.7 93.3 349.8M103.5 331.7C102.9 332.5 101.1 335.2 99.6 336.7C98.2 338.3 96.3 339.5 94.9 341.2C93.6 342.8 92.2 345.7 91.6 346.6M103.5 331.7C102.8 332.4 100.5 334.3 99.3 335.9C98.1 337.5 97.5 339.5 96.3 341.1C95.1 342.7 92.9 344.7 92.3 345.4M103.5 331.7C102.8 332.3 100.9 334.2 99.5 335.3C98 336.5 96.4 337.3 94.9 338.4C93.5 339.5 91.5 341.4 90.8 342M103.5 331.7C102.7 332 100.2 332.6 98.7 333.4C97.2 334.2 95.9 335.2 94.7 336.4C93.4 337.6 91.9 339.9 91.4 340.6M103.5 331.7C102.8 332 100.6 333 99.1 333.7C97.7 334.5 96.4 335.6 95 336.3C93.6 337 91.3 337.7 90.5 338M103.5 331.7C102.7 331.9 100.4 332.4 98.8 332.7C97.3 332.9 95.6 332.9 94.1 333.2C92.5 333.5 90.2 334.2 89.4 334.4M103.5 331.7C102.7 331.6 100.2 331 98.6 330.9C96.9 330.9 95.3 330.9 93.7 331.3C92.1 331.8 89.8 333.1 89 333.4M103.5 331.7C102.7 331.6 100.1 331.3 98.4 331.1C96.7 331 95 331.4 93.3 331.1C91.6 330.8 89.3 329.6 88.4 329.4M103.5 331.7C102.7 331.5 100.1 331.2 98.4 330.8C96.7 330.3 95.2 329.6 93.5 329C91.9 328.4 89.4 327.7 88.6 327.5M103.5 331.7C102.7 331.3 100.3 329.9 98.6 329.3C96.8 328.8 94.8 328.9 93 328.4C91.3 327.9 88.8 326.6 88 326.3M103.5 331.7C102.6 331.3 99.6 330.3 98 329.1C96.3 328 95 326.4 93.6 325C92.1 323.6 89.9 321.6 89.1 320.9M103.5 331.7C102.7 331 100.3 328.9 98.6 327.5C97 326 95.4 324.6 93.7 323.3C92 321.9 89.3 320.1 88.4 319.5M103.5 331.7C102.6 331.1 99.7 329.2 98 327.8C96.2 326.4 94.5 325 93.1 323.3C91.6 321.5 90 318.4 89.4 317.5M103.5 331.7C102.5 330.9 99.6 328.6 97.8 326.8C96 325.1 94.1 323.4 92.8 321.3C91.4 319.3 90.1 315.5 89.6 314.4M103.5 331.7C102.7 330.6 100.4 327.3 98.6 325.4C96.7 323.4 93.9 322.1 92.4 319.9C90.9 317.7 89.9 313.5 89.4 312.2M103.5 331.7C102.6 330.5 100.1 327 98.3 324.7C96.6 322.4 94.3 320.4 93 317.8C91.7 315.2 91 310.5 90.6 309.1M103.5 331.7C102.9 330.7 101 327.7 99.9 325.6C98.9 323.5 98.2 321.1 97.2 319C96.2 316.9 94.9 314.9 93.8 312.8C92.6 310.8 90.7 307.8 90.1 306.8M103.5 331.7C102.9 330.6 101 327.3 100 325C98.9 322.6 98.5 320 97.4 317.7C96.4 315.5 94.7 313.4 93.4 311.2C92.2 309 90.5 305.6 90 304.4M103.5 331.7C102.8 330.6 100.6 327.2 99.5 324.8C98.3 322.4 97.4 320 96.7 317.4C96 314.9 95.9 312 95 309.5C94.1 307.1 92 303.7 91.3 302.5M103.5 331.7C102.9 330.4 100.8 326.5 99.8 323.8C98.8 321.1 98.6 318.1 97.6 315.4C96.6 312.7 94.8 310.2 93.9 307.5C92.9 304.8 92.1 300.5 91.8 299.1M103.5 331.7C103 330.6 101.4 327.3 100.8 325C100.1 322.7 100 320.2 99.5 317.9C99 315.6 98.4 313.2 97.6 311C96.8 308.7 95.6 306.6 94.6 304.4C93.6 302.2 92.1 298.9 91.6 297.8M103.5 331.7C103.2 330.4 102.6 326.6 101.8 324.1C101 321.7 99.7 319.4 98.7 317C97.8 314.5 96.5 312.2 96 309.7C95.4 307.2 95.5 304.5 95.2 301.9C94.9 299.3 94.5 295.4 94.4 294.1M103.5 331.7C102.9 330.5 100.9 326.8 100.2 324.3C99.4 321.7 99.5 319 99.1 316.3C98.6 313.7 98.4 311 97.7 308.4C97 305.9 95.8 303.4 95 300.9C94.1 298.3 93.2 294.5 92.8 293.2M103.5 331.7C103.2 330.5 102.1 327.1 101.7 324.7C101.3 322.3 101.6 319.8 101.2 317.5C100.8 315.1 100.1 312.8 99.3 310.5C98.6 308.2 97.4 306 96.7 303.7C96 301.4 95.5 299 95.3 296.6C95 294.2 95.3 290.5 95.2 289.3M103.5 331.7C103.1 330.5 101.7 326.9 101.1 324.4C100.4 322 99.9 319.5 99.6 317C99.2 314.5 99.2 311.9 98.9 309.4C98.5 306.9 98.2 304.4 97.7 301.9C97.2 299.4 96.5 297 96.1 294.5C95.6 292 95.1 288.2 94.9 287M103.5 331.7C103.1 330.4 101.8 326.6 101.2 324C100.6 321.4 100.2 318.8 99.9 316.1C99.7 313.5 99.9 310.8 99.8 308.1C99.6 305.4 99.5 302.8 99.1 300.2C98.7 297.5 97.9 295 97.3 292.4C96.7 289.8 95.8 285.9 95.5 284.6M103.5 331.7C103.3 330.5 102.4 327 102.1 324.7C101.8 322.3 102 319.9 101.6 317.6C101.2 315.2 100.3 312.9 99.8 310.6C99.2 308.3 98.5 305.9 98.3 303.6C98 301.2 98.3 298.8 98.4 296.4C98.4 294 98.7 291.5 98.5 289.2C98.3 286.8 97.5 283.3 97.4 282.1M103.5 331.7C103.4 330.5 103.2 326.8 102.7 324.4C102.2 322 101.1 319.6 100.5 317.2C99.9 314.8 99.3 312.4 99.2 310C99.1 307.5 99.4 305 99.6 302.5C99.8 300.1 100.2 297.5 100.2 295.1C100.2 292.6 99.8 290.2 99.4 287.8C99 285.4 98.1 281.8 97.8 280.6M103.5 331.7C103.4 330.4 103.4 326.6 103.1 324.1C102.8 321.5 102.1 319 101.8 316.5C101.5 314 101.4 311.4 101.3 308.9C101.3 306.3 101.6 303.8 101.7 301.2C101.8 298.7 101.9 296.1 101.8 293.6C101.6 291 101.2 288.5 100.8 286C100.4 283.4 99.6 279.7 99.3 278.4M103.5 331.7C103.4 330.4 103 326.4 103.1 323.8C103.3 321.1 104.2 318.4 104.2 315.8C104.3 313.1 104 310.5 103.6 307.8C103.2 305.2 102.2 302.6 101.9 299.9C101.5 297.3 101.2 294.7 101.3 292C101.4 289.4 102.2 286.7 102.4 284C102.7 281.4 102.8 277.4 102.9 276.1M103.5 331.7C103.6 330.5 104.1 327 104 324.6C103.8 322.2 103.1 319.9 102.8 317.5C102.5 315.2 102.1 312.8 102.2 310.4C102.3 308.1 103 305.7 103.3 303.3C103.6 301 103.9 298.6 103.8 296.2C103.7 293.9 102.9 291.5 102.6 289.2C102.2 286.8 101.7 284.4 101.8 282.1C101.8 279.7 102.7 276.2 102.9 275M103.5 331.7C103.7 330.5 104.4 326.8 104.6 324.3C104.8 321.8 105 319.4 104.8 316.9C104.5 314.4 103.5 311.9 103.1 309.5C102.7 307 102.3 304.5 102.5 302C102.7 299.6 103.5 297.1 104.1 294.7C104.6 292.2 105.6 289.8 105.8 287.3C106 284.8 105.8 282.3 105.4 279.9C105.1 277.4 104.1 273.7 103.9 272.4M103.5 331.7C103.5 330.4 103 326.5 103.3 324C103.5 321.4 104.8 318.9 105.1 316.3C105.4 313.8 105.3 311.2 105.1 308.6C104.8 306 103.9 303.4 103.6 300.8C103.3 298.2 103 295.7 103.3 293.1C103.6 290.5 104.7 288 105.3 285.5C106 283 107.1 280.4 107.4 277.9C107.8 275.3 107.4 271.4 107.4 270.2M103.5 331.7C103.6 330.5 104.1 327 104 324.7C103.9 322.3 103.1 319.9 103 317.6C102.9 315.2 103 312.9 103.4 310.6C103.7 308.2 104.7 306 105.1 303.6C105.5 301.3 105.7 299 105.7 296.6C105.6 294.3 105 291.9 104.9 289.5C104.8 287.2 104.8 284.8 105.2 282.5C105.6 280.2 106.7 277.9 107.3 275.6C107.8 273.3 108.4 269.8 108.6 268.7M103.5 331.7C103.4 330.5 102.8 326.7 102.8 324.3C102.8 321.8 103.2 319.4 103.5 317C103.9 314.6 104.6 312.2 104.8 309.8C105 307.3 104.8 304.9 104.7 302.4C104.6 299.9 104.1 297.5 104.2 295C104.3 292.6 104.7 290.2 105.2 287.7C105.7 285.3 106.8 283 107.4 280.6C107.9 278.2 108.4 275.8 108.6 273.3C108.9 270.9 108.7 267.2 108.7 266M103.5 331.7C103.5 330.4 103.6 326.6 103.5 324.1C103.4 321.5 102.5 318.9 102.6 316.4C102.8 313.8 103.8 311.4 104.3 308.9C104.8 306.4 105.6 303.9 105.7 301.4C105.8 298.9 105.1 296.3 105.1 293.7C105 291.2 104.9 288.6 105.4 286.1C105.9 283.6 107.3 281.2 108 278.7C108.7 276.3 109.4 273.8 109.7 271.3C110 268.8 109.6 264.9 109.6 263.7M103.5 331.7C103.5 330.5 103.1 326.9 103.2 324.5C103.3 322.1 103.9 319.8 104.2 317.4C104.4 315 104.7 312.7 104.8 310.3C104.9 307.9 104.7 305.5 104.6 303.1C104.6 300.7 104.4 298.2 104.6 295.9C104.7 293.5 105.1 291.1 105.6 288.8C106.1 286.4 106.9 284.1 107.6 281.8C108.2 279.5 108.9 277.2 109.4 274.8C109.8 272.5 110.1 270.1 110.4 267.7C110.6 265.4 111 261.8 111.1 260.6M103.5 331.7C103.4 330.5 103 326.7 103.1 324.3C103.2 321.9 103.9 319.5 104.1 317.1C104.3 314.7 104.4 312.2 104.4 309.8C104.3 307.3 103.9 304.8 103.9 302.4C103.9 299.9 103.9 297.5 104.3 295.1C104.7 292.7 105.6 290.4 106.3 288C106.9 285.6 107.7 283.3 108.1 280.9C108.5 278.5 108.5 276 108.8 273.6C109 271.2 109.1 268.8 109.6 266.4C110.1 264 111.6 260.5 112 259.3M103.5 331.7C103.5 330.4 103.6 326.6 103.8 324C104 321.5 104.4 319 104.5 316.4C104.6 313.9 104.5 311.3 104.4 308.7C104.4 306.1 104.2 303.5 104.3 301C104.4 298.4 104.6 295.9 105.1 293.4C105.6 290.9 106.3 288.4 107 285.9C107.7 283.5 108.5 281 109.1 278.5C109.7 276 110.2 273.5 110.6 271C111 268.5 111.1 266 111.6 263.5C112 260.9 112.9 257.2 113.2 256M103.5 331.7C103.6 330.5 104 327 104.4 324.7C104.8 322.3 105.7 320.1 106 317.7C106.2 315.4 106 312.9 105.8 310.5C105.7 308.1 105.2 305.7 105.1 303.3C105.1 300.9 105.1 298.5 105.5 296.1C105.9 293.8 106.9 291.6 107.6 289.3C108.4 287 109.6 284.8 110.3 282.5C110.9 280.2 111.5 277.9 111.7 275.6C112 273.2 111.8 270.8 111.8 268.4C111.9 266 111.7 263.6 112 261.3C112.4 258.9 113.5 255.5 113.8 254.4M103.5 331.7C103.5 330.4 103.2 326.6 103.3 324.1C103.4 321.6 103.9 319.2 104 316.7C104.2 314.2 104.2 311.7 104.2 309.2C104.2 306.7 104 304.1 104.1 301.6C104.2 299.1 104.2 296.6 104.6 294.2C105 291.7 105.7 289.3 106.4 287C107.1 284.6 108 282.2 108.8 279.9C109.6 277.5 110.4 275.1 111 272.7C111.7 270.3 112.1 267.9 112.7 265.5C113.2 263.1 113.7 260.6 114.5 258.2C115.3 255.9 116.9 252.4 117.4 251.2M103.5 331.7C103.7 330.4 104.2 326.7 104.5 324.1C104.8 321.6 105.3 319.1 105.4 316.6C105.5 314 104.9 311.3 105 308.7C105.1 306.1 105.4 303.6 106 301.1C106.7 298.7 108 296.4 108.7 293.9C109.4 291.5 110 289 110.4 286.5C110.7 284 110.5 281.3 110.8 278.8C111.2 276.3 111.7 273.8 112.6 271.4C113.4 269 115 266.7 116 264.4C117.1 262 118 259.6 118.7 257.1C119.3 254.7 119.8 250.9 120 249.7M103.5 331.7C103.7 330.5 104.4 327.1 104.8 324.7C105.2 322.4 106.1 320.2 106.1 317.8C106.1 315.4 104.9 312.7 104.9 310.3C104.9 307.9 105.3 305.5 106.1 303.3C106.8 301.1 108.7 299.1 109.5 296.8C110.3 294.6 110.7 292.3 110.8 289.9C111 287.5 110.1 284.9 110.3 282.5C110.6 280.2 111.4 277.9 112.5 275.8C113.5 273.6 115.6 271.6 116.5 269.4C117.5 267.2 117.8 264.9 118.2 262.5C118.5 260.2 117.8 257.6 118.4 255.4C118.9 253.1 121 249.9 121.5 248.8M103.5 331.7C103.6 330.5 103.9 326.8 103.9 324.3C103.9 321.8 103.4 319.1 103.7 316.7C104.1 314.3 105.3 312.1 106.1 309.8C107 307.5 108.3 305.3 108.8 303C109.4 300.6 109.4 298.1 109.6 295.6C109.7 293.2 109.3 290.5 109.7 288.1C110.1 285.7 111 283.5 112 281.2C113.1 279 114.9 277 116 274.8C117.1 272.5 118.1 270.3 118.7 268C119.3 265.6 119.2 263.1 119.8 260.7C120.3 258.3 120.7 255.9 121.8 253.7C122.9 251.5 125.6 248.4 126.3 247.4M103.5 331.7C103.5 330.4 103.4 326.6 103.6 324.1C103.7 321.6 103.8 319.1 104.3 316.6C104.8 314.2 105.8 312 106.4 309.6C107 307.2 107.5 304.8 107.8 302.4C108.1 299.9 108 297.3 108.4 294.9C108.8 292.4 109.2 290 110 287.7C110.8 285.4 112.1 283.2 113.1 280.9C114.1 278.7 115.2 276.4 116 274.1C116.8 271.8 117.1 269.3 117.8 267C118.5 264.6 119.1 262.3 120.2 260C121.2 257.8 122.7 255.7 124.1 253.5C125.5 251.3 127.7 248.2 128.4 247.1M103.5 331.7C103.6 330.4 103.7 326.5 104 323.9C104.3 321.3 104.3 318.7 105 316.3C105.8 313.9 107.8 311.9 108.5 309.5C109.3 307.1 109.2 304.4 109.5 301.8C109.7 299.3 109.2 296.4 109.9 294C110.6 291.6 112.6 289.6 113.7 287.3C114.9 285.1 116.4 282.9 117 280.5C117.7 278 117.2 275.2 117.8 272.7C118.4 270.3 119.5 268 120.9 265.8C122.2 263.6 124.7 261.8 126 259.5C127.2 257.3 127.6 254.8 128.4 252.4C129.2 250 130.3 246.3 130.6 245.1M103.5 331.7C103.6 330.5 103.6 326.8 104 324.4C104.5 322.1 105.6 320 106.3 317.8C107 315.5 107.6 313.3 108.1 310.9C108.5 308.6 108.5 306.1 108.7 303.7C108.9 301.3 108.9 298.8 109.3 296.5C109.7 294.1 110.3 291.9 111.2 289.7C112 287.5 113.3 285.5 114.5 283.4C115.7 281.3 117.1 279.3 118.2 277.2C119.3 275.1 120.2 272.9 120.9 270.7C121.7 268.5 122.1 266.1 122.8 263.9C123.4 261.6 124 259.4 125 257.2C126 255.1 127.2 253 128.7 251.1C130.2 249.1 132.8 246.3 133.7 245.3M103.5 331.7C103.7 330.5 104.6 327 104.9 324.5C105.2 322.1 105.3 319.6 105.5 317.1C105.7 314.6 105.7 312 106.2 309.6C106.6 307.2 107.3 305 108.2 302.7C109 300.5 110.1 298.3 111.1 296.1C112 293.9 113 291.7 113.7 289.4C114.5 287.2 115 284.8 115.6 282.5C116.3 280.2 116.8 277.8 117.7 275.6C118.6 273.3 119.6 271.2 120.9 269.1C122.2 267 123.8 265.1 125.2 263.1C126.6 261.1 128.2 259.1 129.4 257C130.7 254.9 131.8 252.8 132.9 250.6C134.1 248.5 135.8 245.3 136.3 244.3" stroke-width="1.1"/></g>
<path d="M139.7 246.3C143.4 246.2 146 247.1 148.8 248.3C151.7 249.6 154.6 251.6 156.7 253.8C158.8 256 160.5 258.8 161.5 261.8C162.6 264.8 163 266.5 163.1 271.5C163.2 276.6 162.6 285.6 162.1 292C161.6 298.4 160.2 305 160.3 309.9C160.5 314.7 162 317.7 163 321.3C163.9 324.8 165.6 326.8 165.9 331C166.2 335.2 165.4 340.9 164.6 346.4C163.8 351.9 162 357.8 161 364.2C160.1 370.5 159.3 378 159 384.6C158.7 391.3 159.7 398.8 159.2 403.8C158.6 408.9 157.4 411.7 155.7 414.9C153.9 418.1 151.4 421.1 148.8 423C146.3 424.8 143.4 425.7 140.4 425.9C137.3 426.1 134 425.7 130.8 424.3C127.6 422.9 124.2 420.5 121.2 417.5C118.3 414.5 115.3 410.2 113.1 406.6C110.8 402.9 109.6 398.4 107.6 395.7C105.5 392.9 103.1 392.5 100.8 390.2C98.5 387.9 95.6 385.4 93.8 382C92.1 378.6 90.8 373.8 90.4 369.7C90.1 365.6 91.2 361 91.6 357.3C92 353.7 93.1 351.2 92.9 347.8C92.7 344.4 91.1 339.8 90.4 336.9C89.8 333.9 89.1 333 88.9 330C88.7 327.1 88.9 323.4 89.3 319.3C89.6 315.3 90.4 309.7 91.1 305.7C91.9 301.6 92.7 298.7 93.8 294.8C95 291 95.7 286.7 98 282.6C100.3 278.4 104.7 274.7 107.6 270.2C110.5 265.6 112.5 258.7 115.7 255.2C118.9 251.7 122.7 250.6 126.7 249.1C130.7 247.6 136 246.4 139.7 246.3Z" stroke-width="0.8"/>
<path d="M140.6 244.1C144.4 244 147.1 244.9 150 246.2C152.9 247.5 155.9 249.5 158.1 251.8C160.3 254.1 161.9 257 163 260C164.1 263 164.5 264.8 164.6 270C164.7 275.2 164.1 284.4 163.6 291C163.1 297.6 161.7 304.3 161.8 309.3C162 314.3 163.6 317.4 164.5 321C165.4 324.6 167.2 326.7 167.5 331C167.8 335.3 167 341.1 166.2 346.8C165.4 352.5 163.5 358.5 162.5 365C161.5 371.5 160.7 379.2 160.4 386C160.1 392.8 161.2 400.5 160.6 405.7C160 410.9 158.8 413.7 157 417C155.2 420.3 152.6 423.4 150 425.3C147.4 427.2 144.4 428.1 141.3 428.3C138.2 428.5 134.8 428.1 131.5 426.7C128.2 425.3 124.7 422.7 121.7 419.7C118.7 416.7 115.6 412.2 113.3 408.5C111 404.8 109.8 400.1 107.7 397.3C105.6 394.5 103.1 394 100.7 391.7C98.3 389.4 95.4 386.8 93.6 383.3C91.8 379.8 90.5 374.9 90.1 370.7C89.7 366.5 90.9 361.8 91.3 358C91.7 354.2 92.8 351.7 92.6 348.2C92.4 344.7 90.8 340 90.1 337C89.4 334 88.7 333 88.5 330C88.3 327 88.5 323.2 88.9 319C89.3 314.8 90 309.2 90.8 305C91.6 300.8 92.4 297.8 93.6 293.9C94.8 289.9 95.6 285.5 97.9 281.3C100.2 277.1 104.7 273.3 107.7 268.6C110.7 263.9 112.7 256.8 116 253.2C119.3 249.6 123.2 248.5 127.3 247C131.4 245.5 136.8 244.2 140.6 244.1Z" stroke-width="1.3"/>
<ellipse cx="101.5" cy="331" rx="4" ry="7" fill="#111" stroke="none" opacity="0.5"/>
<circle cx="103.3" cy="331.8" r="2.3" fill="#fff" stroke-width="1"/>
<circle cx="113.4" cy="331" r="1.9" fill="#fff" stroke="none"/>
<path d="M70.3 333C70.6 331.8 71.7 329.5 72.6 328.6C73.5 327.7 74.7 327.3 75.7 327.4C76.7 327.5 77.8 328.4 78.4 329.3C79 330.2 79.2 331.7 79.3 333C79.4 334.3 79.4 336.2 78.9 337.3C78.5 338.4 77.5 339.3 76.6 339.5C75.7 339.7 74.4 339 73.5 338.4C72.6 337.8 71.5 336.9 71 336C70.5 335.1 70 334.2 70.3 333Z" stroke-width="1.2" stroke="#333"/>
<path d="M160.4 328.4H183.6V332.4H160.4Z" stroke-width="1" fill="#4a4a4a"/>
<path d="M162 330.4H183" stroke-width="1.2" stroke="#999" stroke-dasharray="1.2 1.3" stroke-linecap="butt"/>
<path d="M192.6 323.2H229Q230.8 323.4 230.8 325.2V335.4Q230.8 337.2 229 337.4H192.6C191 337.4 190.3 334 190.3 330.3C190.3 326.6 191 323.2 192.6 323.2Z" stroke-width="1.1"/>
<path d="M192.6 323.2C194.4 324.6 194.4 336 192.6 337.4" stroke-width="0.9"/>
<path d="M191.5 328.6H193.6V332H191.5Z" stroke-width="0.8" fill="#333"/>
<ellipse cx="242.6" cy="330" rx="5.6" ry="19.2" stroke-width="1"/>
<path d="M243.5 310.9C248.5 311.5 250.2 321 250.2 330C250.2 339 248.5 348.5 243.5 349.1" stroke-width="1"/>
<ellipse cx="243" cy="330" rx="2.6" ry="8.6" stroke-width="1"/>
<ellipse cx="243.3" cy="330" rx="1.3" ry="5.2" stroke-width="0.8"/>
<ellipse cx="238.7" cy="329.2" rx="26.2" ry="183.4" stroke-width="1"/>
<path d="M238.7 146.4A24.1 182.8 0 0 1 238.7 512" stroke-width="0.8"/>
<path d="M239.7 145.8C240.9 147.3 245 151.9 246.9 155C248.8 158 249.9 161.1 251.2 164.1C252.6 167.2 253.8 170.3 255 173.3C256.2 176.4 257.3 179.4 258.4 182.5C259.6 185.5 260.6 188.6 261.7 191.6C262.7 194.7 263.7 197.8 264.7 200.8C265.6 203.9 266.6 206.9 267.5 210C268.4 213 269.2 216.1 270.1 219.2C270.9 222.2 271.7 225.3 272.5 228.3C273.3 231.4 274 234.4 274.7 237.5C275.5 240.6 276.1 243.6 276.8 246.7C277.4 249.7 278 252.8 278.6 255.8C279.2 258.9 279.7 262 280.2 265C280.7 268.1 281.2 271.1 281.6 274.2C282 277.2 282.4 280.3 282.8 283.4C283.2 286.4 283.5 289.5 283.8 292.5C284.1 295.6 284.3 298.6 284.5 301.7C284.7 304.7 284.9 307.8 285.1 310.9C285.2 313.9 285.3 317 285.4 320C285.5 323.1 285.5 326.1 285.5 329.2C285.5 332.3 285.5 335.3 285.4 338.4C285.3 341.4 285.2 344.5 285.1 347.5C284.9 350.6 284.7 353.7 284.5 356.7C284.3 359.8 284.1 362.8 283.8 365.9C283.5 368.9 283.2 372 282.8 375C282.4 378.1 282 381.2 281.6 384.2C281.2 387.3 280.7 390.3 280.2 393.4C279.7 396.4 279.2 399.5 278.6 402.6C278 405.6 277.4 408.7 276.8 411.7C276.1 414.8 275.5 417.8 274.7 420.9C274 424 273.3 427 272.5 430.1C271.7 433.1 270.9 436.2 270.1 439.2C269.2 442.3 268.4 445.4 267.5 448.4C266.6 451.5 265.6 454.5 264.7 457.6C263.7 460.6 262.7 463.7 261.7 466.8C260.6 469.8 259.6 472.9 258.4 475.9C257.3 479 256.2 482 255 485.1C253.8 488.1 252.6 491.2 251.2 494.3C249.9 497.3 248.8 500.4 246.9 503.4C245 506.5 240.9 511.1 239.7 512.6" stroke-width="1"/>
<ellipse cx="273.2" cy="243.5" rx="1.2" ry="3.9" transform="rotate(-5.1 273.2 243.5)" stroke-width="1.4"/>
<ellipse cx="270.2" cy="355.6" rx="1.1" ry="2.7" transform="rotate(26 270.2 355.6)" stroke-width="1.4"/>
<ellipse cx="267.9" cy="378.6" rx="2.1" ry="4.8" transform="rotate(-11.7 267.9 378.6)" stroke-width="1.4"/>
<ellipse cx="281.1" cy="362.4" rx="1.1" ry="3.4" transform="rotate(12.5 281.1 362.4)" stroke-width="1.4"/>
<ellipse cx="275.7" cy="335.9" rx="0.7" ry="1.5" transform="rotate(-20 275.7 335.9)" stroke-width="0.6" fill="#222"/>
<ellipse cx="268.3" cy="339.4" rx="1.1" ry="2.7" transform="rotate(28.4 268.3 339.4)" stroke-width="1.4"/>
<ellipse cx="266.9" cy="229.8" rx="1.6" ry="4.4" transform="rotate(-17.7 266.9 229.8)" stroke-width="1.4"/>
<ellipse cx="282.5" cy="317.2" rx="1.2" ry="3.4" transform="rotate(15.5 282.5 317.2)" stroke-width="1.4"/>
<ellipse cx="271.9" cy="309" rx="0.9" ry="2.1" transform="rotate(-9.9 271.9 309)" stroke-width="1.4"/>
<ellipse cx="278.1" cy="375.6" rx="1.4" ry="3.7" transform="rotate(17 278.1 375.6)" stroke-width="1.4"/>
<ellipse cx="273.8" cy="329.4" rx="0.8" ry="2.1" transform="rotate(22.3 273.8 329.4)" stroke-width="1.4"/>
<ellipse cx="261.9" cy="445.5" rx="1.6" ry="4.1" transform="rotate(0.4 261.9 445.5)" stroke-width="1.4"/>
<ellipse cx="280.2" cy="346.3" rx="0.8" ry="2.9" transform="rotate(40.8 280.2 346.3)" stroke-width="1.4"/>
<ellipse cx="268.1" cy="397.2" rx="1.4" ry="3.3" transform="rotate(0.5 268.1 397.2)" stroke-width="1.4"/>
<ellipse cx="269.2" cy="321.4" rx="1.1" ry="2.8" transform="rotate(7.4 269.2 321.4)" stroke-width="1.4"/>
<ellipse cx="281.2" cy="338.5" rx="0.9" ry="3.2" transform="rotate(-23.9 281.2 338.5)" stroke-width="1.4"/>
<ellipse cx="267.6" cy="270.9" rx="1.3" ry="2.7" transform="rotate(-15 267.6 270.9)" stroke-width="1.4"/>
<ellipse cx="276.4" cy="284.9" rx="0.9" ry="2.4" transform="rotate(3.5 276.4 284.9)" stroke-width="1.4"/>
<ellipse cx="270.4" cy="299.7" rx="0.7" ry="1.4" transform="rotate(-7.1 270.4 299.7)" stroke-width="0.6" fill="#222"/>
<ellipse cx="272.1" cy="369.7" rx="0.9" ry="2.8" transform="rotate(-7.1 272.1 369.7)" stroke-width="1.4"/>
<ellipse cx="266.9" cy="427.9" rx="1.6" ry="4.6" transform="rotate(27.7 266.9 427.9)" stroke-width="1.4"/>
<ellipse cx="269.8" cy="262.1" rx="1.9" ry="4.5" transform="rotate(6.9 269.8 262.1)" stroke-width="1.4"/>
<ellipse cx="273.5" cy="416.8" rx="1.7" ry="5" transform="rotate(4.6 273.5 416.8)" stroke-width="1.4"/>
<ellipse cx="274.5" cy="304.3" rx="0.9" ry="2.3" transform="rotate(-2.6 274.5 304.3)" stroke-width="1.4"/>
<ellipse cx="262" cy="210.7" rx="1" ry="2.6" transform="rotate(-5.3 262 210.7)" stroke-width="1.4"/>
<ellipse cx="277.2" cy="393.3" rx="1" ry="3.4" transform="rotate(4.5 277.2 393.3)" stroke-width="1.4"/>
<ellipse cx="268.6" cy="333.6" rx="1.2" ry="2.9" transform="rotate(10.9 268.6 333.6)" stroke-width="1.4"/>
<ellipse cx="263" cy="220.1" rx="1.3" ry="3.3" transform="rotate(-3.6 263 220.1)" stroke-width="1.4"/>
<ellipse cx="275.3" cy="348.5" rx="1.1" ry="2.9" transform="rotate(-6.6 275.3 348.5)" stroke-width="1.4"/>
<ellipse cx="273.5" cy="385.3" rx="2" ry="5" transform="rotate(21.5 273.5 385.3)" stroke-width="1.4"/>
<ellipse cx="272.1" cy="344.5" rx="1.2" ry="3" transform="rotate(3.3 272.1 344.5)" stroke-width="1.4"/>
<ellipse cx="276.6" cy="354.6" rx="1" ry="2.9" transform="rotate(30.6 276.6 354.6)" stroke-width="1.4"/>
<ellipse cx="263.1" cy="201.7" rx="1" ry="2.6" transform="rotate(1.2 263.1 201.7)" stroke-width="1.4"/>
<ellipse cx="270.4" cy="349.9" rx="1" ry="2.3" transform="rotate(41.3 270.4 349.9)" stroke-width="1.4"/>
<ellipse cx="280.3" cy="322.1" rx="0.7" ry="1.6" transform="rotate(18.5 280.3 322.1)" stroke-width="0.6" fill="#222"/>
<ellipse cx="269.5" cy="291" rx="0.9" ry="2.7" transform="rotate(27.8 269.5 291)" stroke-width="1.4"/>
<ellipse cx="267.2" cy="253.1" rx="1.2" ry="3.6" transform="rotate(-16.3 267.2 253.1)" stroke-width="1.4"/>
<ellipse cx="281.1" cy="331.7" rx="1.1" ry="3.1" transform="rotate(-11 281.1 331.7)" stroke-width="1.4"/>
<ellipse cx="271.1" cy="363.5" rx="1.2" ry="3" transform="rotate(10.7 271.1 363.5)" stroke-width="1.4"/>
<ellipse cx="260.6" cy="456.6" rx="1.1" ry="2.6" transform="rotate(28 260.6 456.6)" stroke-width="1.4"/>
<ellipse cx="274.9" cy="275" rx="0.9" ry="2.8" transform="rotate(2.9 274.9 275)" stroke-width="1.4"/>
<ellipse cx="277.9" cy="308.5" rx="1.1" ry="3.3" transform="rotate(24.2 277.9 308.5)" stroke-width="1.4"/>
<ellipse cx="277.7" cy="290.1" rx="0.7" ry="1.4" transform="rotate(24 277.7 290.1)" stroke-width="0.6" fill="#222"/>
<ellipse cx="275" cy="322.6" rx="1.1" ry="2.7" transform="rotate(6.3 275 322.6)" stroke-width="1.4"/>
<ellipse cx="279.5" cy="298.2" rx="0.9" ry="2.4" transform="rotate(-9.6 279.5 298.2)" stroke-width="1.4"/>
<ellipse cx="275.5" cy="313.9" rx="0.9" ry="2.2" transform="rotate(-16.5 275.5 313.9)" stroke-width="1.4"/>
<ellipse cx="266.9" cy="437.1" rx="1.3" ry="3.5" transform="rotate(-4 266.9 437.1)" stroke-width="1.4"/>
<ellipse cx="277.5" cy="367.1" rx="0.9" ry="2.4" transform="rotate(-30.7 277.5 367.1)" stroke-width="1.4"/>
<ellipse cx="267.2" cy="406.1" rx="1.5" ry="3.4" transform="rotate(21.8 267.2 406.1)" stroke-width="1.4"/>
<ellipse cx="268.3" cy="326.5" rx="0.8" ry="2.2" transform="rotate(-34.2 268.3 326.5)" stroke-width="1.4"/>
<ellipse cx="275.1" cy="294.6" rx="1.1" ry="3.1" transform="rotate(-23.9 275.1 294.6)" stroke-width="1.4"/>
<ellipse cx="264.1" cy="418.8" rx="2.3" ry="5.1" transform="rotate(11.7 264.1 418.8)" stroke-width="1.4"/>
<ellipse cx="267.1" cy="285.2" rx="1.2" ry="3" transform="rotate(10.2 267.1 285.2)" stroke-width="1.4"/>
<ellipse cx="268.9" cy="313.2" rx="1.2" ry="3.1" transform="rotate(18.6 268.9 313.2)" stroke-width="1.4"/>
<ellipse cx="281.2" cy="304.4" rx="0.9" ry="3" transform="rotate(26.3 281.2 304.4)" stroke-width="1.4"/>
<ellipse cx="275.9" cy="401.7" rx="0.7" ry="1.9" transform="rotate(20.4 275.9 401.7)" stroke-width="0.6" fill="#222"/>
<ellipse cx="275.6" cy="254.8" rx="1.4" ry="5" transform="rotate(-22.6 275.6 254.8)" stroke-width="1.4"/>
<ellipse cx="275.6" cy="360.7" rx="0.6" ry="1.5" transform="rotate(-8.7 275.6 360.7)" stroke-width="0.6" fill="#222"/>
<ellipse cx="264.3" cy="241.9" rx="1.4" ry="3.2" transform="rotate(-18.7 264.3 241.9)" stroke-width="1.4"/>
<ellipse cx="281.9" cy="311.8" rx="1.1" ry="3.2" transform="rotate(25.7 281.9 311.8)" stroke-width="1.4"/>
<ellipse cx="281.4" cy="352.1" rx="0.7" ry="1.5" transform="rotate(16.3 281.4 352.1)" stroke-width="0.6" fill="#222"/>
<ellipse cx="277.6" cy="265.6" rx="1.4" ry="4" transform="rotate(-9.6 277.6 265.6)" stroke-width="1.4"/>
<ellipse cx="276.1" cy="341.4" rx="0.8" ry="2.3" transform="rotate(-34.5 276.1 341.4)" stroke-width="1.4"/>
<ellipse cx="282.5" cy="326.7" rx="0.8" ry="2.4" transform="rotate(-13.2 282.5 326.7)" stroke-width="1.4"/>
<ellipse cx="267.8" cy="304.4" rx="1.1" ry="2.7" transform="rotate(29.1 267.8 304.4)" stroke-width="1.4"/>
<ellipse cx="267.5" cy="367.3" rx="1.3" ry="3.4" transform="rotate(27.7 267.5 367.3)" stroke-width="1.4"/>
<ellipse cx="281.2" cy="357.3" rx="0.9" ry="2.8" transform="rotate(-36.3 281.2 357.3)" stroke-width="1.4"/>
<ellipse cx="266.3" cy="389.1" rx="1.7" ry="3.8" transform="rotate(-8.8 266.3 389.1)" stroke-width="1.4"/>
<path d="M265.1 269.2v0.9M265.2 272.3v0.9M265.3 275.4v0.9M265.5 278.5v0.9M265.6 281.6v0.9M265.7 284.7v0.9M265.8 287.8v0.9M265.9 290.9v0.9M266 294v0.9M266.1 297.1v0.9M266.2 300.2v0.9M266.2 303.3v0.9M266.3 306.4v0.9M266.3 309.5v0.9M266.4 312.6v0.9M266.4 315.7v0.9M266.5 318.8v0.9M266.5 321.9v0.9M266.5 325v0.9M266.5 328.1v0.9M266.5 331.2v0.9M266.5 334.3v0.9M266.5 337.4v0.9M266.5 340.5v0.9M266.4 343.6v0.9M266.4 346.7v0.9M266.3 349.8v0.9M266.3 352.9v0.9M266.2 356v0.9M266.1 359.1v0.9M266.1 362.2v0.9M266 365.3v0.9M265.9 368.4v0.9M265.8 371.5v0.9M265.7 374.6v0.9M265.6 377.7v0.9M265.4 380.8v0.9M265.3 383.9v0.9M265.2 387v0.9M265 390.1v0.9" stroke-width="1.2"/>
<path d="M278.4 325.2H301V335.8H278.4ZM280.6 325.2V335.8M282.8 325.2V335.8M285 325.2V335.8M287.2 325.2V335.8M289.4 325.2V335.8M291.6 325.2V335.8M293.8 325.2V335.8M296 325.2V335.8M298.2 325.2V335.8M300.4 325.2V335.8" stroke-width="1.1" fill="#fff"/>
<ellipse cx="305.8" cy="320.4" rx="13.4" ry="3" stroke-width="1"/>
<path d="M292.4 320.4V367Q292.4 370.4 295.8 370.4H319.2V320.4" stroke-width="1"/>
<path d="M305.4 341.6V294.5Q305.4 290.5 309.4 290.5H329Q333 290.5 333 294.5V341.6" stroke-width="1"/>
<ellipse cx="319.2" cy="341.6" rx="13.8" ry="3.2" stroke-width="1"/>
<path d="M308 322.6H337Q339.7 322.6 339.7 325.3V334.8Q339.7 337.5 337 337.5H308" stroke-width="1"/>
<ellipse cx="308" cy="330.1" rx="2.2" ry="7.5" stroke-width="1"/>
<path d="M312.4 278.5H342.6V290.5H312.4" stroke-width="1"/>
<ellipse cx="312.4" cy="284.5" rx="2.2" ry="6" stroke-width="1"/>
<path d="M298.7 370.7H328.3Q330.4 370.7 330.4 372.8V381Q330.4 383.1 328.3 383.1H298.7" stroke-width="1"/>
<ellipse cx="298.7" cy="376.9" rx="2.1" ry="6.2" stroke-width="1"/>
<path d="M333.8 269.4A20.3 61.3 0 0 1 333.8 392" stroke-width="1"/>
<path d="M333.8 269.4A20.3 61.3 0 0 0 323.2 278.5" stroke-width="1"/>
<path d="M333.8 392A20.3 61.3 0 0 1 323.3 383.1" stroke-width="1"/>
<path d="M333.8 269.4H350.5A20.3 61.3 0 0 1 350.5 392H333.8" stroke-width="1"/>
<path d="M344.7 248.9H349.9L348.8 250.8H345.8Z" stroke-width="0.8" fill="#333"/>
<path d="M345.8 250.8H348.8V258.8H345.8Z" stroke-width="0.8" fill="#777"/>
<path d="M345.4 252H349.2M345.4 253.7H349.2M345.4 255.4H349.2M345.4 257.1H349.2" stroke-width="0.8"/>
<path d="M346.4 411.7H351.6L350.5 409.8H347.5Z" stroke-width="0.8" fill="#333"/>
<path d="M347.5 401.6H350.5V409.8H347.5Z" stroke-width="0.8" fill="#777"/>
<path d="M347.1 402.8H350.9M347.1 404.5H350.9M347.1 406.2H350.9M347.1 407.9H350.9" stroke-width="0.8"/>
<path d="M383.4 280.4L397.3 279.6L405.8 288.3L396.6 289.2L393.4 289.4Z" stroke-width="1"/>
<path d="M396.6 289.2V377.9" stroke-width="1"/>
<path d="M404.4 289.6V385.6" stroke-width="1"/>
<path d="M405.9 288.3V386.6" stroke-width="1"/>
<path d="M384.6 378.6L396.6 377.9L404.4 385.6L392.6 386.6Z" stroke-width="1"/>
<path d="M392.6 386.6L393.4 387.8L405.9 386.7" stroke-width="0.8"/>
<path d="M383.4 280.4L383.6 281.6L393 290.6" stroke-width="0.7"/>
<ellipse cx="395.3" cy="284.2" rx="1.6" ry="1.1" transform="rotate(20 395.3 284.2)" stroke-width="0.9"/>
<ellipse cx="400.4" cy="304.8" rx="1.3" ry="3.2" stroke-width="0.9"/>
<ellipse cx="400.2" cy="364.2" rx="1.3" ry="3.2" stroke-width="0.9"/>
<ellipse cx="394.8" cy="382" rx="1.6" ry="1.1" transform="rotate(20 394.8 382)" stroke-width="0.9"/>
<path d="M438.4 179.2L438.4 437.4" stroke-width="1.3"/>
<path d="M438.4 188.1L448.9 199.7M438.4 198.7L448.9 210.3M438.4 209.3L448.9 220.9M438.4 220L448.9 231.6M438.4 230.6L448.9 242.2M438.4 241.2L448.9 252.8M438.4 251.8L448.9 263.4M438.4 262.4L448.9 274M438.4 273.1L448.9 284.7M438.4 283.7L448.9 295.3M438.4 294.3L448.9 305.9M438.4 304.9L448.9 316.5M438.4 315.5L448.9 327.1M438.4 326.2L448.9 337.8M438.4 336.8L448.9 348.4M438.4 347.4L448.9 359M438.4 358L448.9 369.6M438.4 368.6L448.9 380.2M438.4 379.3L448.9 390.9M438.4 389.9L448.9 401.5M438.4 400.5L448.9 412.1M438.4 411.1L448.9 422.7M438.4 421.7L448.9 433.3M438.4 432.4L448.9 444" stroke-width="1" stroke="#222"/>
<path d="M734 117.2L734 157.4" stroke-width="1"/>
<path d="M877.6 117.2L877.6 157.4" stroke-width="1"/>
<path d="M734 121.8L877.6 121.8" stroke-width="1"/>
<path d="M734.3 121.8L741.3 120.5L741.3 123.1Z" fill="#111" stroke="#111" stroke-width="0.4"/>
<path d="M877.3 121.8L870.3 123.1L870.3 120.5Z" fill="#111" stroke="#111" stroke-width="0.4"/>
<ellipse cx="805.8" cy="192.5" rx="71.8" ry="23.7" stroke-width="0.9" stroke="#333"/>
<path d="M734 192.5V172.3A71.8 23.7 0 0 1 877.6 172.3V192.5" stroke-width="0.9" stroke="#333"/>
<ellipse cx="760.4" cy="185" rx="5" ry="2.9" transform="rotate(-18 760.4 185)" stroke-width="1"/>
<ellipse cx="805.3" cy="192.6" rx="7.6" ry="3.8" stroke-width="1"/>
<ellipse cx="854.4" cy="197.5" rx="5" ry="2.9" transform="rotate(-18 854.4 197.5)" stroke-width="1"/>
<path d="M886.9 170.4L918.2 170.4" stroke-width="1"/>
<path d="M886.9 192.5L918.2 192.5" stroke-width="1"/>
<path d="M913.6 170.4L913.6 192.5" stroke-width="1"/>
<path d="M913.6 170.6L914.7 176.6L912.5 176.6Z" fill="#111" stroke="#111" stroke-width="0.4"/>
<path d="M913.6 192.3L912.5 186.3L914.7 186.3Z" fill="#111" stroke="#111" stroke-width="0.4"/>
<path d="M633.5 470.5L633.5 605.2" stroke-width="1"/>
<path d="M965.1 470.5L965.1 605.2" stroke-width="1"/>
<path d="M633.5 600.2L965.1 600.2" stroke-width="1"/>
<path d="M633.8 600.2L640.8 598.9L640.8 601.5Z" fill="#111" stroke="#111" stroke-width="0.4"/>
<path d="M964.8 600.2L957.8 601.5L957.8 598.9Z" fill="#111" stroke="#111" stroke-width="0.4"/>
<path d="M721.6 493.4L721.6 567.4" stroke-width="1"/>
<path d="M888.5 492.4L888.5 567.4" stroke-width="1"/>
<path d="M721.6 563.4L888.5 563.4" stroke-width="1"/>
<path d="M721.9 563.4L728.9 562.1L728.9 564.7Z" fill="#111" stroke="#111" stroke-width="0.4"/>
<path d="M888.2 563.4L881.2 564.7L881.2 562.1Z" fill="#111" stroke="#111" stroke-width="0.4"/>
<path d="M852 356.7L1012.6 356.7" stroke-width="1"/>
<path d="M971.6 515.2L1011.6 515.2" stroke-width="1"/>
<path d="M1007.7 356.7L1007.7 515.2" stroke-width="1"/>
<path d="M1007.7 357L1009 364L1006.4 364Z" fill="#111" stroke="#111" stroke-width="0.4"/>
<path d="M1007.7 514.9L1006.4 507.9L1009 507.9Z" fill="#111" stroke="#111" stroke-width="0.4"/>
<path d="M745.1 388.2V373.2A55.4 17 0 0 1 855.9 373.2V388.2" stroke-width="1"/>
<path d="M745.1 388.2A55.4 17 0 0 1 855.9 388.2" stroke-width="1"/>
<path d="M745.1 388.2A55.4 17 0 0 0 752.1 396.5" stroke-width="1"/>
<path d="M855.9 388.2A55.4 17 0 0 1 847.9 397" stroke-width="1"/>
<path d="M752.1 409V383.8Q752.1 380.8 755.1 380.8H761.7Q764.7 380.8 764.7 383.8V409" stroke-width="1"/>
<ellipse cx="758.4" cy="409" rx="6.3" ry="1.6" stroke-width="0.9"/>
<path d="M836.3 421V396.2Q836.3 393.4 839.1 393.4H845.1Q847.9 393.4 847.9 396.2V421" stroke-width="1"/>
<ellipse cx="842.1" cy="421" rx="5.8" ry="1.5" stroke-width="0.9"/>
<path d="M793.1 500V387.3Q793.1 384.3 796.1 384.3H803.5Q806.5 384.3 806.5 387.3V500" stroke-width="1"/>
<path d="M764.7 392.8Q764.7 390.2 767.3 390.2H809.4Q812.7 390.2 812.7 394.5V412" stroke-width="1"/>
<path d="M809.3 390.2Q806.3 390.6 806.3 395V412" stroke-width="0.9"/>
<path d="M789.1 412V406Q789.1 403 792.1 403H835.3" stroke-width="1"/>
<path d="M791 404.5H836.3" stroke-width="0.8"/>
<path d="M789.1 425.5H836.3" stroke-width="0.8"/>
<ellipse cx="799.5" cy="432.6" rx="16.9" ry="4.4" stroke-width="1"/>
<ellipse cx="799.5" cy="433.4" rx="7.2" ry="2" stroke-width="1"/>
<path d="M782.6 432.6V433.8A16.9 4.4 0 0 0 816.4 433.8V432.6" stroke-width="0.8"/>
<ellipse cx="798.8" cy="448.8" rx="165.6" ry="23.6" stroke-width="1"/>
<path d="M634.7 448.3A164.1 22.1 0 0 1 962.9 448.3" stroke-width="0.8"/>
<path d="M633.2 447.4A351.9 351.9 0 0 1 964.4 447.4" stroke-width="1"/>
<ellipse cx="710.4" cy="420.8" rx="1.9" ry="5.2" transform="rotate(88.9 710.4 420.8)" stroke-width="1.45"/>
<ellipse cx="703.2" cy="426.8" rx="1.4" ry="3.9" transform="rotate(78.9 703.2 426.8)" stroke-width="1.45"/>
<ellipse cx="851" cy="420.6" rx="2.1" ry="5.1" transform="rotate(88.6 851 420.6)" stroke-width="1.45"/>
<ellipse cx="803.1" cy="411.5" rx="0.8" ry="2.2" transform="rotate(71.9 803.1 411.5)" stroke-width="1.45"/>
<ellipse cx="800.5" cy="419.5" rx="1.1" ry="2.3" transform="rotate(108.8 800.5 419.5)" stroke-width="1.45"/>
<ellipse cx="752" cy="417.1" rx="1.5" ry="4.4" transform="rotate(94.5 752 417.1)" stroke-width="1.45"/>
<ellipse cx="727.6" cy="416.5" rx="1.1" ry="3.4" transform="rotate(72.8 727.6 416.5)" stroke-width="1.45"/>
<ellipse cx="815.6" cy="418.4" rx="0.9" ry="2.9" transform="rotate(101.1 815.6 418.4)" stroke-width="1.45"/>
<ellipse cx="820.6" cy="418.1" rx="1" ry="2.4" transform="rotate(91.9 820.6 418.1)" stroke-width="1.45"/>
<ellipse cx="764.3" cy="414" rx="0.8" ry="2.1" transform="rotate(61.7 764.3 414)" stroke-width="1.45"/>
<ellipse cx="877.5" cy="419.2" rx="1.4" ry="4.9" transform="rotate(107 877.5 419.2)" stroke-width="1.45"/>
<ellipse cx="733.1" cy="424.6" rx="1" ry="2.7" transform="rotate(92.5 733.1 424.6)" stroke-width="1.45"/>
<ellipse cx="863.2" cy="420.9" rx="1.7" ry="4" transform="rotate(88.9 863.2 420.9)" stroke-width="1.45"/>
<ellipse cx="774.3" cy="412.8" rx="1.2" ry="3.1" transform="rotate(63.6 774.3 412.8)" stroke-width="1.45"/>
<ellipse cx="829.7" cy="418.4" rx="1.2" ry="2.9" transform="rotate(86 829.7 418.4)" stroke-width="1.45"/>
<ellipse cx="787.8" cy="409.9" rx="0.8" ry="2.8" transform="rotate(79.4 787.8 409.9)" stroke-width="1.45"/>
<ellipse cx="782.8" cy="416.3" rx="0.8" ry="2.6" transform="rotate(108.7 782.8 416.3)" stroke-width="1.45"/>
<ellipse cx="816.7" cy="409.8" rx="1" ry="2.9" transform="rotate(72.7 816.7 409.8)" stroke-width="1.45"/>
<ellipse cx="830.6" cy="412.8" rx="1.1" ry="3.1" transform="rotate(102.3 830.6 412.8)" stroke-width="1.45"/>
<ellipse cx="901.1" cy="425.2" rx="1" ry="2.6" transform="rotate(97 901.1 425.2)" stroke-width="1.45"/>
<ellipse cx="718.3" cy="423" rx="1.8" ry="4.4" transform="rotate(87.6 718.3 423)" stroke-width="1.45"/>
<ellipse cx="691.6" cy="427.4" rx="2.1" ry="4.9" transform="rotate(81 691.6 427.4)" stroke-width="1.45"/>
<ellipse cx="890.2" cy="423.7" rx="1.8" ry="4.5" transform="rotate(107.2 890.2 423.7)" stroke-width="1.45"/>
<ellipse cx="913.9" cy="428.1" rx="1" ry="2.6" transform="rotate(109.8 913.9 428.1)" stroke-width="1.45"/>
<ellipse cx="842.4" cy="418" rx="1" ry="2.9" transform="rotate(105 842.4 418)" stroke-width="1.45"/>
<ellipse cx="834.6" cy="415.9" rx="0.9" ry="2.9" transform="rotate(101.1 834.6 415.9)" stroke-width="1.45"/>
<ellipse cx="808" cy="409.2" rx="0.9" ry="2.5" transform="rotate(111.9 808 409.2)" stroke-width="1.45"/>
<ellipse cx="742.6" cy="423.9" rx="1.6" ry="4" transform="rotate(93.2 742.6 423.9)" stroke-width="1.45"/>
<ellipse cx="810" cy="418.8" rx="1" ry="2.2" transform="rotate(81.1 810 418.8)" stroke-width="1.45"/>
<ellipse cx="783.2" cy="421.9" rx="1" ry="2.4" transform="rotate(108.8 783.2 421.9)" stroke-width="1.45"/>
<ellipse cx="870.6" cy="425" rx="1.9" ry="4.7" transform="rotate(101 870.6 425)" stroke-width="1.45"/>
<ellipse cx="737.8" cy="416.8" rx="1.5" ry="4.3" transform="rotate(92 737.8 416.8)" stroke-width="1.45"/>
<ellipse cx="771.6" cy="419" rx="1.4" ry="3.1" transform="rotate(68.6 771.6 419)" stroke-width="1.45"/>
<ellipse cx="795.5" cy="415.3" rx="0.7" ry="1.5" transform="rotate(83.1 795.5 415.3)" stroke-width="0.6" fill="#222"/>
<ellipse cx="759.8" cy="411.4" rx="0.7" ry="1.5" transform="rotate(74.5 759.8 411.4)" stroke-width="0.6" fill="#222"/>
<ellipse cx="765.4" cy="421.4" rx="0.9" ry="2.4" transform="rotate(99.3 765.4 421.4)" stroke-width="1.45"/>
<ellipse cx="789.9" cy="418.5" rx="0.9" ry="2.1" transform="rotate(91.7 789.9 418.5)" stroke-width="1.45"/>
<ellipse cx="778.9" cy="409.5" rx="0.7" ry="1.4" transform="rotate(86.5 778.9 409.5)" stroke-width="0.6" fill="#222"/>
<ellipse cx="822" cy="410.8" rx="0.9" ry="2.3" transform="rotate(95.2 822 410.8)" stroke-width="1.45"/>
<ellipse cx="678.6" cy="430.6" rx="0.9" ry="2.6" transform="rotate(76.4 678.6 430.6)" stroke-width="1.45"/>
<ellipse cx="838.5" cy="421.2" rx="0.8" ry="2.1" transform="rotate(100.9 838.5 421.2)" stroke-width="1.45"/>
<ellipse cx="805.9" cy="422.1" rx="1" ry="2.4" transform="rotate(85.1 805.9 422.1)" stroke-width="1.45"/>
<ellipse cx="833.3" cy="422.1" rx="1.1" ry="3" transform="rotate(72.8 833.3 422.1)" stroke-width="1.45"/>
<ellipse cx="777.5" cy="416.9" rx="0.9" ry="2.3" transform="rotate(108.1 777.5 416.9)" stroke-width="1.45"/>
<ellipse cx="798.3" cy="409.5" rx="0.9" ry="2.4" transform="rotate(98 798.3 409.5)" stroke-width="1.45"/>
<ellipse cx="825.2" cy="421.5" rx="0.8" ry="2.3" transform="rotate(89.9 825.2 421.5)" stroke-width="1.45"/>
<ellipse cx="761.4" cy="418.2" rx="1" ry="2.2" transform="rotate(104.9 761.4 418.2)" stroke-width="1.45"/>
<ellipse cx="855.7" cy="413.6" rx="0.9" ry="2.8" transform="rotate(90.4 855.7 413.6)" stroke-width="1.45"/>
<ellipse cx="769.4" cy="411" rx="0.9" ry="3.3" transform="rotate(110.5 769.4 411)" stroke-width="1.45"/>
<ellipse cx="812" cy="412.8" rx="0.8" ry="2.1" transform="rotate(113.5 812 412.8)" stroke-width="1.45"/>
<ellipse cx="793.1" cy="410.2" rx="1.1" ry="3.2" transform="rotate(70.9 793.1 410.2)" stroke-width="1.45"/>
<ellipse cx="841.3" cy="411.6" rx="0.9" ry="3.4" transform="rotate(112.2 841.3 411.6)" stroke-width="1.45"/>
<ellipse cx="775.6" cy="422.3" rx="0.7" ry="1.4" transform="rotate(98.3 775.6 422.3)" stroke-width="0.6" fill="#222"/>
<ellipse cx="795.9" cy="422.2" rx="1.5" ry="3.1" transform="rotate(99.4 795.9 422.2)" stroke-width="1.45"/>
<ellipse cx="825.2" cy="414.7" rx="0.8" ry="2.1" transform="rotate(71.8 825.2 414.7)" stroke-width="1.45"/>
<ellipse cx="922.3" cy="429.9" rx="0.9" ry="2.6" transform="rotate(110 922.3 429.9)" stroke-width="1.45"/>
<ellipse cx="758.3" cy="423" rx="1.2" ry="2.7" transform="rotate(92.2 758.3 423)" stroke-width="1.45"/>
<ellipse cx="805.3" cy="416.1" rx="0.8" ry="2.2" transform="rotate(94.7 805.3 416.1)" stroke-width="1.45"/>
<ellipse cx="836.2" cy="410.7" rx="0.9" ry="3" transform="rotate(75.4 836.2 410.7)" stroke-width="1.45"/>
<ellipse cx="745" cy="412.8" rx="0.8" ry="2.7" transform="rotate(83.5 745 412.8)" stroke-width="1.45"/>
<ellipse cx="843.2" cy="423.3" rx="1.1" ry="2.3" transform="rotate(120.1 843.2 423.3)" stroke-width="1.45"/>
<ellipse cx="869.2" cy="415.3" rx="1.2" ry="4.3" transform="rotate(95.7 869.2 415.3)" stroke-width="1.45"/>
<ellipse cx="882.1" cy="425.9" rx="1.7" ry="4.3" transform="rotate(103.8 882.1 425.9)" stroke-width="1.45"/>
<path d="M795.4 407.6H805.2V428.2H795.4ZM795.4 409.5H805.2M795.4 411.4H805.2M795.4 413.3H805.2M795.4 415.2H805.2M795.4 417.1H805.2M795.4 419H805.2M795.4 420.9H805.2M795.4 422.8H805.2M795.4 424.7H805.2M795.4 426.6H805.2" stroke-width="1" fill="#fff"/>
<path d="M794.2 414.5H806.2M794.2 421.5H806.2" stroke-width="1"/>
<path d="M793.1 405V430M806.5 405V430" stroke-width="1"/>
<clipPath id="fc2"><path d="M722.7 469.8C722.7 467.4 723 465 723.9 462.6C724.8 460.2 726.2 457.6 728.1 455.5C730 453.4 732.5 451.3 735.3 450.1C738.1 448.9 741.2 448.3 744.8 448.1C748.4 447.9 752.7 448.5 756.7 448.9C760.7 449.3 764.8 450.5 768.6 450.7C772.4 450.9 776.2 450.6 779.4 450.1C782.6 449.6 784.4 448.4 787.7 447.7C791 447 795 446 799 445.9C803 445.8 807.8 446.3 811.9 446.9C816 447.5 819.8 448.6 823.8 449.5C827.8 450.4 831.8 451.7 835.8 452.5C839.8 453.3 843.7 454.1 847.7 454.1C851.7 454.1 856 452.8 859.6 452.5C863.2 452.2 865.9 451.9 869.1 452.5C872.3 453.1 876 454.5 878.7 456.1C881.4 457.7 883.6 459.9 885.2 462.1C886.8 464.3 887.8 466.7 888.2 469.2C888.6 471.7 888.4 474.5 887.6 477C886.8 479.5 885.3 481.7 883.4 484.1C881.5 486.5 878.7 489.4 876.3 491.3C873.9 493.2 871.7 494 869.1 495.4C866.5 496.8 862.8 497.9 860.8 499.6C858.8 501.3 859 503.8 857.2 505.6C855.4 507.4 852.9 509 850.1 510.3C847.3 511.6 843.9 512.7 840.5 513.3C837.1 513.9 833.4 514 829.8 513.9C826.2 513.8 822.1 512.5 819.1 512.7C816.1 512.9 814.3 514.4 811.9 515.1C809.5 515.8 807 516.7 804.8 516.9C802.5 517.1 801.4 516.6 798.4 516.5C795.4 516.4 790.5 516.9 786.5 516.3C782.5 515.7 778.6 513.5 774.6 512.7C770.6 511.9 766.1 512.3 762.7 511.5C759.3 510.7 756.5 509.4 754.3 508C752.1 506.6 751.6 504.6 749.6 503.2C747.6 501.8 745 501 742.4 499.6C739.8 498.2 736.3 496.4 734.1 494.8C731.9 493.2 730.5 491.8 729.3 490C728.1 488.2 727.8 486.3 726.9 484.1C726 481.9 724.6 479.4 723.9 477C723.2 474.6 722.7 472.2 722.7 469.8Z"/></clipPath>
<g clip-path="url(#fc2)"><path d="M801.1 504.1C799.9 503.9 796.3 503.2 793.9 502.8C791.5 502.4 789.1 501.9 786.6 501.6C784.2 501.3 781.5 501.4 779.1 501C776.6 500.7 774.2 500.3 771.9 499.6C769.7 498.8 767.6 497.7 765.5 496.6C763.3 495.5 761.4 494.1 759.2 493C757.1 491.9 754.9 491 752.7 490.1C750.5 489.2 748.2 488.6 746 487.7C743.8 486.7 741.7 485.7 739.7 484.4C737.7 483 735.9 481.2 734 479.5C732.2 477.8 730.5 475.7 728.6 474C726.8 472.3 723.9 470 723 469.1M801.1 504.1C799.8 503.9 796 503.5 793.6 502.9C791.2 502.3 789 501.3 786.6 500.6C784.2 500 781.7 499.7 779.2 499.2C776.8 498.7 774.2 498.4 771.9 497.6C769.6 496.8 767.5 495.6 765.4 494.4C763.2 493.2 761.3 491.7 759.2 490.6C757 489.5 754.7 488.6 752.5 487.6C750.3 486.6 748 485.8 745.9 484.6C743.8 483.3 742 481.7 740.1 480C738.2 478.4 736.5 476.4 734.6 474.7C732.7 473.1 730.7 471.7 728.8 470.2C726.8 468.7 723.8 466.5 722.9 465.8M801.1 504.1C799.9 503.8 796.2 503 793.8 502.2C791.5 501.4 789.4 500 787 499.4C784.6 498.8 781.7 499 779.3 498.3C776.9 497.6 774.7 496.6 772.5 495.4C770.4 494.2 768.7 492.2 766.5 491.1C764.4 490 761.8 489.5 759.6 488.6C757.3 487.7 754.9 487.1 752.8 485.7C750.8 484.3 749.3 482 747.4 480.4C745.5 478.8 743.5 477.5 741.4 476.2C739.3 474.9 736.8 474.4 734.8 472.9C732.9 471.4 731.3 469.2 729.6 467.2C727.9 465.3 725.4 462.2 724.6 461.2M801.1 504.1C799.8 503.8 796.1 502.8 793.6 502.3C791 501.8 788.1 501.8 785.6 501.2C783.1 500.7 780.7 499.9 778.4 498.9C776.2 497.9 774.2 496.4 772.1 495.2C769.9 494.1 767.7 493.1 765.4 492.1C763.2 491.1 760.7 490.5 758.5 489.3C756.4 488.2 754.4 486.8 752.5 485.2C750.6 483.6 749 481.4 747.2 479.7C745.4 478 743.5 476.4 741.6 474.8C739.7 473.3 737.6 472.1 735.8 470.3C734 468.6 732.4 466.5 730.9 464.3C729.4 462.1 727.5 458.3 726.8 457.1M801.1 504.1C799.9 503.7 796.3 502.5 794 501.6C791.7 500.7 789.6 499.4 787.2 498.5C784.9 497.6 782.4 497 780 496.2C777.6 495.4 775.1 494.8 772.9 493.7C770.6 492.7 768.6 491.4 766.6 490C764.6 488.6 762.9 486.8 761 485.3C759.1 483.7 757.2 482.1 755.3 480.7C753.3 479.2 751.1 478.1 749.1 476.7C747.1 475.4 745 474.2 743.1 472.6C741.2 471 739.5 469.2 737.9 467.2C736.3 465.2 734.9 462.9 733.4 460.8C731.9 458.7 729.5 455.6 728.8 454.6M801.1 504.1C799.9 503.7 796.4 502.4 793.9 501.7C791.3 501.1 788.6 500.8 786 500.3C783.4 499.7 780.7 499.4 778.4 498.4C776.1 497.4 774.2 495.9 772.2 494.5C770.3 493.1 768.6 491.3 766.6 490C764.5 488.7 762.3 487.7 760.1 486.5C757.9 485.4 755.5 484.6 753.6 483.2C751.6 481.7 750 479.9 748.4 477.9C746.9 476 745.7 473.5 744.2 471.4C742.7 469.3 741.1 467.4 739.4 465.6C737.7 463.8 735.7 462.4 734.2 460.5C732.6 458.6 730.6 455.1 729.9 454M801.1 504.1C800 503.6 796.3 502.5 794.2 501.3C792.1 500.1 790.7 498 788.5 496.9C786.3 495.9 783.4 495.7 781 495C778.6 494.2 775.9 493.6 774 492.3C772.1 490.9 771 488.4 769.3 486.7C767.7 484.9 766.2 483 764.2 481.6C762.2 480.3 759.4 480 757.4 478.8C755.3 477.5 753.3 476.2 751.8 474.3C750.2 472.4 749.6 469.4 748.2 467.3C746.8 465.2 745.3 463.3 743.5 461.7C741.8 460.1 739.2 459.4 737.6 457.7C735.9 456 734.1 452.5 733.4 451.5M801.1 504.1C799.8 503.7 796 502.2 793.4 501.5C790.7 500.7 787.5 500.4 785 499.5C782.6 498.5 780.5 497.1 778.5 495.5C776.5 494 775 491.9 773.1 490.2C771.2 488.6 769.3 487 767.2 485.5C765.1 484.1 762.6 483.2 760.5 481.7C758.5 480.3 756.4 478.8 754.8 476.8C753.2 474.9 752.1 472.3 750.9 469.9C749.7 467.5 748.9 464.7 747.6 462.3C746.3 460 744.8 457.9 743.4 455.8C741.9 453.6 739.7 450.5 738.9 449.5M801.1 504.1C799.8 503.7 795.5 502.8 793.3 501.6C791 500.4 789.5 498.4 787.6 496.9C785.6 495.4 783.7 493.8 781.5 492.6C779.2 491.3 776.6 490.6 774.2 489.5C771.8 488.4 769.2 487.5 767.2 486C765.3 484.6 763.7 482.6 762.2 480.6C760.8 478.5 759.9 475.9 758.6 473.6C757.3 471.4 756 469.1 754.4 467.2C752.8 465.3 750.8 463.8 749.1 462.1C747.3 460.3 745.4 458.8 744 456.7C742.6 454.5 741.3 450.5 740.8 449.2M801.1 504.1C800.1 503.4 797.1 501.4 795 500C793 498.7 791.3 497.1 789 496C786.7 494.9 783.5 494.7 781.2 493.6C778.9 492.5 776.8 491.3 775.2 489.5C773.6 487.7 773 485.1 771.6 483C770.3 481 769 479 767.2 477.4C765.4 475.9 762.7 475.1 760.9 473.6C759 472.2 757 470.7 755.8 468.6C754.6 466.5 754.2 463.5 753.4 461C752.5 458.5 752 455.7 750.7 453.6C749.5 451.5 746.8 449.1 746 448.2M801.1 504.1C799.8 503.5 795.8 502.1 793.5 500.7C791.3 499.3 789.5 497.5 787.6 495.8C785.8 494 784.5 491.8 782.6 490.1C780.6 488.4 778.2 487.1 776.1 485.6C773.9 484.2 771.4 483 769.6 481.2C767.8 479.4 766.6 477.1 765.2 474.9C763.9 472.6 763.1 469.9 761.7 467.7C760.4 465.5 758.6 463.7 756.9 461.8C755.3 459.8 753.2 458.3 751.9 456.1C750.5 453.9 749.3 449.8 748.7 448.5M801.1 504.1C800.1 503.4 797.2 501.1 794.9 499.8C792.7 498.5 790 497.7 787.7 496.4C785.4 495.2 782.9 494.1 781.1 492.5C779.2 490.9 778 488.8 776.6 486.8C775.2 484.8 774.2 482.5 772.8 480.6C771.3 478.6 769.6 476.9 767.9 475.2C766.2 473.4 764.2 472 762.7 470.1C761.2 468.2 760 466 759.1 463.6C758.3 461.2 758 458.3 757.4 455.7C756.8 453 755.8 449.1 755.4 447.8M801.1 504.1C800 503.4 796.8 501.6 794.7 500.2C792.7 498.8 790.6 497.5 788.9 495.8C787.3 494.2 786.2 492.1 784.8 490.2C783.3 488.4 782 486.4 780.4 484.7C778.8 483 776.8 481.6 775.1 480C773.4 478.4 771.5 476.9 770.1 475C768.7 473.1 767.6 471 766.6 468.8C765.7 466.6 765.1 464 764.2 461.8C763.3 459.5 762.3 457.3 761.2 455.2C760.1 453.1 758.1 450.2 757.5 449.3M801.1 504.1C800.1 503.3 797 501 794.9 499.4C792.8 497.9 790.2 496.7 788.6 494.8C787 492.9 786.4 490.2 785.2 488.1C783.9 485.9 782.8 483.7 781.1 481.8C779.4 480 776.8 478.8 775.1 477C773.3 475.2 771.6 473.4 770.5 471.1C769.4 468.9 769.3 465.8 768.6 463.3C767.8 460.8 767.2 458.2 766 456.1C764.8 453.9 762.2 451.1 761.4 450.2M801.1 504.1C800 503.4 796.5 501.4 794.5 500C792.4 498.5 790.2 497.1 788.6 495.3C786.9 493.6 785.8 491.5 784.5 489.5C783.3 487.5 782.2 485.4 781 483.4C779.7 481.4 778.3 479.4 777 477.5C775.6 475.6 773.9 473.9 772.7 471.9C771.4 469.9 770.1 467.9 769.3 465.6C768.5 463.3 768 460.8 767.7 458.2C767.3 455.7 767.2 451.5 767.1 450.1M801.1 504.1C800.2 503.1 797.8 500.1 795.9 498.3C793.9 496.4 791.5 494.9 789.5 493.1C787.6 491.2 785.5 489.5 784.2 487.3C782.9 485.1 782.6 482.4 781.6 480C780.7 477.7 779.7 475.3 778.5 473.1C777.2 470.8 775.3 469 774.3 466.7C773.3 464.3 772.8 461.7 772.5 459C772.2 456.2 772.5 451.7 772.5 450.3M801.1 504.1C800.3 503.1 797.9 500.2 796.1 498.2C794.4 496.3 792.1 494.7 790.8 492.6C789.5 490.5 789.2 487.8 788.5 485.4C787.7 483.1 787.4 480.5 786.3 478.3C785.2 476 783.3 474.2 781.9 472.1C780.5 470.1 778.7 468.2 777.8 465.8C776.9 463.5 776.9 460.8 776.7 458.1C776.5 455.5 776.6 451.3 776.5 449.9M801.1 504.1C800.5 503 798.5 499.9 797.4 497.7C796.3 495.6 795.7 493.2 794.3 491.1C793 489 790.7 487.4 789.4 485.3C788.1 483.2 787.1 481 786.5 478.6C785.8 476.2 786.2 473.5 785.6 471.1C785 468.7 783.9 466.6 782.9 464.3C781.9 462.1 780.2 460.2 779.6 457.8C778.9 455.5 779.1 451.5 779 450.2M801.1 504.1C800.2 503.1 797.3 500.3 795.9 498.3C794.5 496.2 793.6 494 792.8 491.7C792 489.4 792.2 486.8 791.4 484.5C790.6 482.2 789.4 480.1 788.1 478C786.9 475.9 785 474 784 471.8C783.1 469.6 782.6 467.2 782.4 464.7C782.3 462.2 783 459.3 783.1 456.8C783.1 454.2 782.7 450.5 782.6 449.2M801.1 504.1C800.5 503 798.7 499.8 797.4 497.6C796.1 495.5 794.4 493.4 793.4 491.2C792.5 489 792.1 486.5 791.5 484.2C791 481.9 790.6 479.5 789.9 477.1C789.2 474.8 788 472.7 787.3 470.4C786.6 468.1 785.9 465.7 785.7 463.3C785.5 460.8 786 458.2 786.1 455.7C786.1 453.1 786 449.4 786 448.1M801.1 504.1C800.8 502.9 800 499.4 799.1 497.1C798.2 494.8 796.8 492.6 795.8 490.3C794.7 488.1 793.5 485.8 793 483.5C792.5 481.1 792.6 478.6 792.6 476.2C792.5 473.7 792.9 471.2 792.7 468.8C792.5 466.4 791.8 464 791.3 461.7C790.8 459.3 789.9 457 789.6 454.6C789.4 452.2 789.8 448.4 789.8 447.2M801.1 504.1C800.9 502.9 800.4 499.3 800.2 496.9C799.9 494.5 800.2 492 799.5 489.7C798.8 487.3 796.5 485.1 795.9 482.7C795.4 480.3 796 477.8 796.3 475.4C796.5 472.9 797.6 470.4 797.3 468C797 465.6 795.1 463.3 794.5 460.9C794 458.6 793.7 456.2 794 453.7C794.3 451.2 795.9 447.4 796.3 446.1M801.1 504.1C801.2 502.9 801.6 499.2 801.5 496.8C801.3 494.4 800.5 492 800 489.6C799.4 487.2 798.4 484.8 798.1 482.4C797.8 480 797.9 477.5 798.1 475.1C798.3 472.7 799.1 470.2 799.4 467.7C799.7 465.3 800 462.9 799.8 460.4C799.7 458 798.9 455.6 798.5 453.2C798 450.8 797.2 447.2 796.9 446M801.1 504.1C801.3 502.9 802.6 499.3 802.6 496.9C802.6 494.4 801.8 492 801.4 489.6C801 487.1 799.9 484.7 800.1 482.3C800.3 479.8 802.2 477.4 802.7 475C803.3 472.6 803.7 470.2 803.4 467.8C803.1 465.3 801.2 462.9 800.8 460.4C800.5 458 800.8 455.6 801.3 453.2C801.8 450.8 803.4 447.2 803.8 445.9M801.1 504.1C801.1 502.9 801.2 499.2 801.3 496.8C801.4 494.4 801.3 492 801.6 489.6C801.9 487.2 802.6 484.8 803.1 482.4C803.5 480 804.1 477.6 804.2 475.2C804.4 472.8 804.3 470.3 804.2 467.9C804.1 465.5 803.7 463 803.6 460.6C803.5 458.1 803.6 455.7 803.8 453.3C804 450.9 804.7 447.3 804.9 446.1M801.1 504.1C801.4 502.9 802.1 499.4 802.6 497C803.1 494.6 803.1 492.2 803.9 489.8C804.7 487.5 806.5 485.3 807.2 483C808 480.7 808.4 478.3 808.5 475.8C808.5 473.4 807.6 470.8 807.7 468.3C807.8 465.9 808.4 463.5 808.9 461.2C809.5 458.8 810.9 456.6 811.2 454.2C811.6 451.8 810.9 448 810.8 446.8M801.1 504.1C801.5 502.9 802.6 499.5 803.6 497.2C804.6 494.9 806.4 492.8 807 490.4C807.5 488.1 806.7 485.4 806.9 483C807.2 480.6 807.6 478.2 808.5 475.9C809.3 473.6 811.2 471.5 811.8 469.1C812.4 466.8 812 464.2 811.9 461.7C811.8 459.2 811 456.6 811.3 454.1C811.5 451.7 813.2 448.4 813.6 447.2M801.1 504.1C801.8 503 803.9 499.9 805.3 497.7C806.7 495.6 808.3 493.6 809.4 491.3C810.5 489.1 811 486.7 811.7 484.4C812.4 482.1 812.8 479.6 813.4 477.3C814.1 474.9 815.1 472.7 815.9 470.4C816.6 468.1 817.6 465.8 818 463.4C818.4 460.9 818.3 458.4 818.3 455.8C818.2 453.3 817.8 449.3 817.6 448M801.1 504.1C801.8 503 803.6 499.8 805 497.7C806.5 495.6 808.4 493.7 809.8 491.6C811.1 489.5 812.2 487.3 813 485C813.8 482.7 814.1 480.2 814.6 477.8C815.2 475.4 815.6 472.9 816.3 470.6C817 468.2 818.1 466 818.9 463.7C819.7 461.4 820.6 459.1 821 456.6C821.4 454.2 821.3 450.2 821.3 449M801.1 504.1C801.8 503 803.9 499.9 805 497.7C806.2 495.5 806.7 493.1 808.2 491C809.7 489 812.5 487.5 814.1 485.5C815.6 483.5 817 481.4 817.7 479C818.4 476.6 817.7 473.6 818.2 471.1C818.7 468.6 819.5 466.2 820.6 464C821.7 461.8 824 460.1 824.9 457.8C825.9 455.5 826.1 451.5 826.3 450.3M801.1 504.1C802.2 503.3 805.9 501 807.7 499.1C809.4 497.1 810.2 494.7 811.5 492.6C812.8 490.4 813.9 488.2 815.4 486.1C817 484.1 819.2 482.5 820.8 480.5C822.4 478.5 823.9 476.5 824.8 474.1C825.7 471.7 825.7 468.9 826 466.2C826.4 463.5 826.4 460.7 827 458.2C827.6 455.6 829.1 452.2 829.6 451M801.1 504.1C802.2 503.2 805.2 500.6 807.4 499C809.7 497.4 812.6 496.2 814.6 494.5C816.6 492.7 818.1 490.6 819.4 488.4C820.7 486.2 821.3 483.5 822.4 481.2C823.6 478.9 825 476.7 826.4 474.6C827.8 472.4 829.7 470.6 830.9 468.3C832 466 832.8 463.5 833.3 460.7C833.7 458 833.4 453.2 833.4 451.7M801.1 504.1C802.2 503.3 805.8 501 807.9 499.3C810 497.6 811.6 495.5 813.5 493.7C815.5 491.9 817.7 490.3 819.7 488.5C821.7 486.7 823.8 485 825.5 483C827.1 480.9 828.4 478.7 829.4 476.2C830.5 473.8 831 471 831.7 468.3C832.4 465.7 832.9 462.9 833.7 460.2C834.4 457.6 835.7 453.7 836.1 452.4M801.1 504.1C802.1 503.4 805.1 501.2 807.1 499.8C809.2 498.4 811.8 497.4 813.5 495.7C815.2 494 816.1 491.6 817.3 489.6C818.6 487.5 819.4 485.2 820.9 483.3C822.4 481.5 824.5 480.1 826.3 478.5C828.1 476.9 830.4 475.6 831.7 473.7C833.1 471.7 833.9 469.3 834.7 466.9C835.5 464.5 835.6 461.6 836.5 459.3C837.3 456.9 839.3 453.9 839.9 452.9M801.1 504.1C802.1 503.3 804.9 500.8 806.9 499.3C808.9 497.8 811.1 496.4 813.3 495C815.5 493.7 818.3 492.8 820.2 491.3C822.2 489.7 823.6 487.6 825 485.6C826.4 483.5 827.3 480.9 828.7 478.9C830.2 476.9 832 475.2 833.8 473.5C835.5 471.7 837.7 470.3 839.2 468.3C840.6 466.3 841.6 463.8 842.5 461.3C843.4 458.8 844.2 454.6 844.6 453.2M801.1 504.1C802.2 503.4 805.4 501.1 807.6 499.6C809.7 498.1 811.8 496.6 814 495.2C816.3 493.8 818.9 492.7 821.1 491.2C823.2 489.7 825.3 488.1 827 486.2C828.7 484.3 830 482 831.5 479.9C833 477.7 834.4 475.5 836 473.5C837.6 471.5 839.5 469.7 841.2 467.8C842.9 465.8 844.7 464 846.1 461.8C847.4 459.5 848.8 455.5 849.4 454.3M801.1 504.1C802.3 503.6 806.3 502.4 808.5 501.2C810.8 500 812.4 498.2 814.5 496.9C816.7 495.6 819.1 494.6 821.4 493.5C823.7 492.4 826.3 491.6 828.4 490.1C830.4 488.7 832.1 486.9 833.6 485C835.2 483.1 836.2 480.7 837.6 478.6C839.1 476.6 840.7 474.7 842.3 472.9C844 471.1 846 469.7 847.6 467.8C849.1 465.8 850.4 463.7 851.4 461.2C852.4 458.7 853.3 454.3 853.7 453M801.1 504.1C802.3 503.5 805.9 501.8 808.3 500.7C810.8 499.6 813.3 498.6 815.9 497.6C818.4 496.7 821.4 496.1 823.8 495C826.2 493.8 828.3 492.4 830.2 490.6C832 488.9 833.4 486.6 835 484.6C836.6 482.6 838.2 480.6 840 478.8C841.8 477 844 475.6 845.8 473.8C847.7 472.1 849.6 470.4 851 468.2C852.5 465.9 853.4 463.2 854.4 460.5C855.4 457.8 856.5 453.3 856.9 451.9M801.1 504.1C802.3 503.7 805.9 502.2 808.4 501.5C811 500.8 814 500.6 816.5 499.8C819 498.9 821.2 497.8 823.2 496.4C825.2 495 826.8 493.1 828.5 491.4C830.3 489.7 831.9 487.9 833.8 486.4C835.8 484.9 837.9 483.7 840 482.4C842.1 481.1 844.4 480 846.2 478.5C848.1 476.9 849.7 475 851.1 472.9C852.4 470.8 853.3 468.1 854.5 465.6C855.6 463.2 856.5 460.5 857.7 458.2C859 455.9 861.2 452.9 861.9 451.8M801.1 504.1C802.4 503.8 806.6 502.9 809.2 502.1C811.8 501.3 814.4 500.5 816.6 499.3C818.9 498.1 820.6 496.2 822.6 494.8C824.7 493.3 826.8 491.9 829 490.7C831.3 489.5 833.9 488.7 836.1 487.5C838.4 486.2 840.6 485 842.5 483.3C844.4 481.6 845.8 479.3 847.3 477.3C848.9 475.2 850.2 472.8 851.8 470.8C853.5 468.8 855.4 467.2 857.2 465.4C859 463.6 860.9 462.1 862.5 459.9C864 457.8 865.6 453.8 866.3 452.6M801.1 504.1C802.5 503.9 806.8 503.7 809.3 503.1C811.8 502.4 813.9 501.3 816.1 500.3C818.4 499.3 820.3 497.8 822.5 496.9C824.8 495.9 827.5 495.5 829.8 494.7C832.2 493.8 834.7 493.2 836.7 491.9C838.8 490.6 840.3 488.7 842 487C843.7 485.3 845.2 483.2 847 481.7C848.8 480.1 851 479 852.9 477.6C854.8 476.1 856.8 474.8 858.3 472.9C859.9 471 861 468.4 862.2 466C863.4 463.7 864.4 461 865.8 458.8C867.1 456.6 869.5 453.8 870.2 452.8M801.1 504.1C802.4 503.8 806.4 503.1 808.7 502.2C811.1 501.4 813.3 500.2 815.4 499C817.6 497.8 819.5 496.3 821.6 495C823.7 493.8 825.9 492.6 828.1 491.6C830.4 490.6 832.9 489.8 835.1 488.8C837.4 487.7 839.6 486.7 841.7 485.4C843.7 484 845.5 482.3 847.2 480.5C849 478.8 850.5 476.7 852.2 474.9C853.9 473.1 855.7 471.3 857.5 469.7C859.3 468 861.4 466.7 863.3 465.1C865.2 463.6 867.1 462.1 868.8 460.3C870.5 458.5 872.7 455.2 873.4 454.1M801.1 504.1C802.5 503.9 806.8 503.8 809.3 503C811.8 502.2 813.9 500.8 816.1 499.5C818.3 498.3 820.1 496.5 822.5 495.6C825 494.8 828.1 495 830.6 494.2C833.1 493.5 835.6 492.7 837.6 491.2C839.7 489.8 840.9 487.1 842.9 485.4C844.8 483.8 847 482.5 849.2 481.4C851.5 480.2 854.3 480 856.4 478.6C858.5 477.2 860 474.9 861.6 472.8C863.3 470.7 864.4 467.8 866.2 465.9C868 464 870.4 463.1 872.4 461.6C874.3 460 877.1 457.4 878.1 456.5M801.1 504.1C802.3 503.9 806.2 503.4 808.5 502.6C810.7 501.9 812.4 500 814.7 499.4C817.1 498.7 820 499 822.6 498.7C825.2 498.4 828 498.6 830.2 497.7C832.4 496.8 834.1 495 835.9 493.4C837.7 491.9 839.2 489.7 841.2 488.5C843.2 487.3 845.8 487 848 486.2C850.3 485.4 852.9 485.2 854.9 483.9C856.9 482.6 858.3 480.4 859.8 478.4C861.4 476.3 862.5 473.6 864.1 471.8C865.8 470.1 868 469.1 870 467.8C871.9 466.5 874.3 465.9 876 464.2C877.7 462.4 879.5 458.5 880.2 457.4M801.1 504.1C802.3 503.9 805.9 503 808.5 502.6C811 502.2 813.8 502.4 816.3 502C818.8 501.6 821.2 501 823.5 500.2C825.8 499.4 827.7 498 829.9 497C832 495.9 834.1 494.7 836.3 493.7C838.5 492.8 840.9 492.2 843.2 491.4C845.5 490.6 847.9 490 850 488.8C852.1 487.7 854 486.2 855.8 484.6C857.7 483.1 859.3 481.1 861.2 479.4C863 477.8 864.9 476.3 866.8 474.8C868.8 473.4 870.9 472.3 872.8 470.9C874.7 469.4 876.6 467.9 878.3 465.9C880 464 882.1 460.5 882.9 459.4M801.1 504.1C802.3 503.8 805.8 502.7 808.2 502.2C810.6 501.6 813 501.1 815.6 500.7C818.1 500.4 820.9 500.6 823.4 500.2C825.9 499.8 828.2 499.1 830.4 498.2C832.7 497.2 834.6 495.6 836.6 494.3C838.7 493.1 840.7 491.7 842.9 490.8C845.2 489.8 847.6 489.3 849.9 488.6C852.2 487.8 854.7 487.3 856.8 486.1C858.9 485 860.8 483.4 862.7 481.7C864.6 480.1 866.2 477.9 868 476.2C869.9 474.6 871.9 473.1 873.9 471.7C875.9 470.4 878.2 469.5 880.2 468.2C882.2 466.8 885 464.3 886 463.5M801.1 504.1C802.3 503.9 806.1 503.5 808.5 502.9C810.9 502.3 813 501.2 815.3 500.5C817.7 499.7 820 499.1 822.4 498.6C824.8 498 827.4 497.8 829.8 497.3C832.2 496.8 834.7 496.3 837 495.5C839.2 494.7 841.4 493.7 843.5 492.5C845.7 491.4 847.7 489.9 849.8 488.7C851.9 487.4 854 486.2 856.1 485.1C858.3 484.1 860.6 483.3 862.8 482.3C865.1 481.4 867.4 480.6 869.5 479.5C871.6 478.3 873.7 477 875.6 475.4C877.6 473.9 879.4 472 881.3 470.3C883.2 468.6 886 466 887 465.2M801.1 504.1C802.4 504 806.1 503.6 808.6 503.5C811.2 503.4 813.9 503.7 816.4 503.4C818.9 503.2 821.3 502.7 823.6 502.1C825.9 501.5 828.1 500.4 830.4 499.7C832.7 499 835 498.3 837.3 497.7C839.7 497.1 842.2 496.9 844.5 496.3C846.9 495.6 849.2 494.9 851.4 493.9C853.5 492.9 855.5 491.4 857.6 490.1C859.7 488.8 861.7 487.4 863.8 486.2C865.9 485 868.2 484.2 870.3 483.1C872.5 482 874.7 481 876.7 479.6C878.8 478.2 880.6 476.4 882.5 474.6C884.4 472.8 887.1 469.9 888 468.9M801.1 504.1C802.3 504 806.1 504 808.5 503.7C810.9 503.4 813.1 502.6 815.5 502.2C817.9 501.8 820.3 501.5 822.7 501.3C825.1 501 827.7 501.1 830 500.7C832.4 500.3 834.7 499.8 837 499C839.2 498.3 841.3 497.1 843.5 496.2C845.7 495.2 847.9 494.2 850.1 493.4C852.3 492.7 854.7 492.2 856.9 491.5C859.2 490.7 861.5 490.1 863.7 489.1C865.8 488.1 867.8 486.7 869.9 485.4C871.9 484 873.8 482.4 875.9 481C877.9 479.7 880 478.5 882.1 477.3C884.2 476.1 887.4 474.5 888.5 473.9M801.1 504.1C802.4 504.1 806.4 504.4 809 504.1C811.5 503.8 814 503.2 816.4 502.5C818.8 501.9 821 500.5 823.5 500C826 499.6 828.8 500.1 831.3 499.9C833.9 499.7 836.5 499.5 838.8 498.6C841.2 497.8 843.2 495.8 845.6 494.9C847.9 493.9 850.3 493.3 852.8 492.8C855.3 492.2 858 492.5 860.3 491.7C862.7 490.8 864.8 489.1 867 487.7C869.2 486.4 871.3 484.6 873.6 483.5C875.9 482.5 878.5 482.5 880.9 481.6C883.2 480.7 886.6 478.7 887.7 478.2M801.1 504.1C802.4 504.2 806.2 504.7 808.7 504.6C811.2 504.4 813.5 503.8 815.8 503.3C818.2 502.9 820.5 502.1 822.9 501.9C825.3 501.6 827.9 501.9 830.4 501.7C832.8 501.6 835.3 501.7 837.7 501.2C840 500.7 842.2 499.6 844.5 498.7C846.7 497.8 848.9 496.5 851.2 495.8C853.5 495 855.9 494.7 858.3 494.2C860.6 493.6 863 493.4 865.3 492.6C867.6 491.7 869.7 490.4 871.8 489.1C874 487.7 876 486 878.2 484.7C880.4 483.5 883.7 482.2 884.9 481.7M801.1 504.1C802.3 504.1 805.9 503.8 808.3 503.9C810.8 504 813.4 504.9 815.8 504.7C818.1 504.6 820.4 503.8 822.6 503.1C824.9 502.3 826.9 500.9 829.2 500.1C831.4 499.3 833.6 498.5 835.9 498.1C838.3 497.8 840.8 498 843.2 498C845.6 498 848.1 498.3 850.4 497.9C852.7 497.5 855 496.8 857.1 495.8C859.3 494.7 861.3 493 863.4 491.7C865.5 490.4 867.6 489 869.8 488.1C872 487.2 874.3 486.8 876.6 486.3C878.9 485.9 882.5 485.5 883.6 485.3M801.1 504.1C802.4 504.2 806.3 504.4 808.9 504.5C811.5 504.5 814.1 504.9 816.6 504.4C819.1 504 821.3 502.7 823.7 501.9C826.1 501 828.5 500 830.9 499.6C833.4 499.1 836 499.4 838.6 499.3C841.2 499.3 843.8 499.7 846.3 499.4C848.8 499 851.2 498.1 853.5 497.1C855.8 496 858 494.2 860.3 493.1C862.6 491.9 865 490.8 867.4 490.2C869.8 489.5 872.4 489.6 874.9 489.1C877.3 488.7 881 487.7 882.2 487.4M801.1 504.1C802.3 503.9 805.8 502.9 808.3 502.9C810.7 502.8 813.4 503.6 815.9 503.7C818.4 503.9 820.9 504.1 823.3 503.6C825.6 503.1 827.8 501.7 830.2 500.9C832.5 500.1 834.7 499.1 837.1 498.7C839.5 498.4 842.1 498.8 844.6 498.8C847 498.7 849.5 498.9 851.9 498.4C854.3 497.8 856.5 496.4 858.7 495.3C861 494.2 863.1 492.6 865.4 491.8C867.7 490.9 870.2 490.8 872.6 490.4C875 490 878.6 489.7 879.8 489.6M801.1 504.1C802.4 504 806.2 503.7 808.7 503.4C811.2 503.1 813.7 502.4 816.2 502.3C818.8 502.2 821.4 502.7 824 502.7C826.6 502.8 829.2 502.9 831.7 502.5C834.2 502.2 836.6 501.2 839.1 500.4C841.5 499.7 843.9 498.6 846.4 498C848.8 497.4 851.4 497.3 853.9 497.1C856.5 496.8 859.1 497 861.5 496.5C864 496.1 866.5 495.2 868.9 494.2C871.3 493.3 874.8 491.3 876 490.7M801.1 504.1C802.3 503.8 805.8 502.7 808.3 502.6C810.7 502.5 813.3 503.4 815.8 503.5C818.3 503.7 820.8 504 823.2 503.5C825.6 503.1 827.8 501.2 830.1 500.5C832.5 499.8 834.9 499.4 837.3 499.3C839.8 499.3 842.4 500.5 844.9 500.4C847.3 500.2 849.7 499.5 852 498.7C854.3 497.8 856.5 495.8 858.8 495.2C861.2 494.5 863.7 494.7 866.1 494.6C868.6 494.5 872.3 494.7 873.5 494.7M801.1 504.1C802.3 503.9 805.7 502.9 808.1 502.7C810.4 502.4 812.8 502.2 815.2 502.3C817.6 502.5 820.2 503.3 822.6 503.4C825 503.5 827.3 503.3 829.7 502.8C832 502.3 834.2 501 836.5 500.2C838.8 499.4 841 498.5 843.4 498.1C845.7 497.8 848.2 498.1 850.6 498.1C853 498.2 855.4 498.7 857.8 498.4C860.2 498.2 862.4 497.5 864.7 496.6C867 495.8 870.3 493.8 871.4 493.3M801.1 504.1C802.4 503.9 806.1 503.2 808.7 503.1C811.2 503.1 813.8 503.4 816.4 503.6C819 503.8 821.6 504.4 824.2 504.3C826.7 504.2 829.2 503.6 831.7 502.9C834.2 502.3 836.6 501.1 839.1 500.5C841.6 499.9 844.1 499.6 846.6 499.4C849.2 499.3 851.8 499.7 854.3 499.5C856.9 499.3 859.4 499 861.9 498.3C864.3 497.5 867.9 495.6 869.2 495.1M801.1 504.1C802.3 504.1 806 504.4 808.4 504.4C810.8 504.4 813.3 504.4 815.7 504C818.1 503.7 820.3 502.4 822.7 502.2C825.1 501.9 827.6 502.4 830.1 502.4C832.5 502.5 835 502.9 837.4 502.5C839.7 502.1 842 500.7 844.4 500.1C846.7 499.5 849.1 499.1 851.5 498.9C853.9 498.8 856.5 499.5 858.8 499.1C861.2 498.8 864.7 497.4 865.9 497M801.1 504.1C802.3 504.2 805.9 505 808.2 504.8C810.6 504.6 812.8 503.4 815.1 503C817.4 502.6 819.8 502.3 822.1 502.4C824.5 502.6 827 503.5 829.3 503.8C831.7 504 834.1 504.2 836.4 503.8C838.7 503.4 841 502.2 843.2 501.4C845.5 500.5 847.7 499.4 850.1 498.9C852.4 498.5 854.7 498.8 857.1 498.8C859.5 498.8 863 499 864.2 499.1M801.1 504.1C802.4 504.3 806.3 505.3 808.8 505.4C811.4 505.4 813.9 505.1 816.4 504.7C818.9 504.2 821.3 502.8 823.9 502.6C826.4 502.5 829 503.5 831.6 503.7C834.2 504 836.8 504.6 839.3 504.1C841.8 503.7 844.2 501.8 846.6 501C849.1 500.2 851.6 499.5 854.1 499.3C856.6 499.2 860.5 499.9 861.8 500M801.1 504.1C802.3 504.3 806 505.1 808.4 505.3C810.9 505.5 813.3 505.7 815.7 505.3C818.1 504.9 820.5 503.2 822.9 502.7C825.3 502.3 827.8 502.3 830.2 502.7C832.7 503 835.1 504.5 837.6 504.8C840 505 842.5 504.9 844.9 504.3C847.3 503.7 849.6 501.8 852 501.2C854.4 500.5 858.1 500.4 859.3 500.2M801.1 504.1C802.3 504.3 805.8 504.9 808.2 505.1C810.6 505.2 813 505.1 815.4 504.8C817.7 504.6 820.1 503.8 822.5 503.6C824.9 503.4 827.2 503.5 829.6 503.8C832 504 834.4 504.8 836.7 505.1C839.1 505.4 841.5 505.7 843.9 505.6C846.2 505.5 848.6 504.8 851 504.4C853.4 504 856.9 503.4 858.1 503.3M801.1 504.1C802.4 504.3 806.4 505.4 809 505.3C811.7 505.2 814.4 503.6 817.1 503.5C819.7 503.3 822.4 503.7 825 504.3C827.7 504.9 830.3 506.6 832.9 507C835.6 507.4 838.2 507.1 840.9 506.7C843.6 506.2 846.3 504.7 849 504.4C851.6 504.1 855.6 504.8 856.9 504.9M801.1 504.1C802.4 504.1 806.3 503.6 808.8 503.8C811.3 504.1 813.8 505 816.3 505.7C818.8 506.4 821.3 507.7 823.9 508C826.4 508.3 829 508 831.6 507.7C834.1 507.4 836.8 506.4 839.3 506.1C841.9 505.9 844.5 506.1 847 506.5C849.5 506.9 853.3 508.2 854.5 508.5M801.1 504.1C802.3 504.1 806 504.2 808.4 504.4C810.9 504.5 813.3 504.5 815.7 504.9C818.1 505.4 820.5 506.4 822.9 506.9C825.3 507.4 827.7 507.8 830.1 508C832.6 508.1 835 507.7 837.5 507.6C840 507.6 842.4 507.4 844.8 507.7C847.3 508 850.8 509.1 852 509.3M801.1 504.1C802.2 504.4 805.6 505.5 808 505.9C810.3 506.3 812.6 506.3 815 506.3C817.4 506.3 819.8 505.8 822.1 505.9C824.5 506 826.8 506.5 829.1 507.1C831.4 507.7 833.6 508.8 835.9 509.4C838.2 510 840.5 510.5 842.8 510.6C845.2 510.7 848.8 510.2 850 510.1M801.1 504.1C802.4 504.5 806.2 506.3 808.8 506.5C811.4 506.8 814.3 505.7 817 505.7C819.7 505.7 822.3 505.8 824.9 506.6C827.5 507.3 829.9 509.3 832.4 510.1C835 510.9 837.6 511.4 840.3 511.4C843 511.4 847.2 510.2 848.6 509.9M801.1 504.1C802.3 504.4 805.8 505.5 808.3 505.9C810.7 506.2 813.3 505.7 815.8 506.1C818.2 506.4 820.6 507.1 823 507.8C825.3 508.6 827.6 509.9 829.9 510.6C832.3 511.4 834.7 511.9 837.2 512.1C839.7 512.3 843.5 511.9 844.7 511.9M801.1 504.1C802.2 504.4 805.6 505.7 807.9 506.1C810.2 506.6 812.6 506.2 814.9 506.7C817.2 507.2 819.4 508.3 821.6 509.2C823.8 510.1 825.9 511.4 828.2 511.9C830.5 512.4 832.9 512.4 835.3 512.4C837.7 512.4 841.4 512 842.6 511.9M801.1 504.1C802.4 504.4 806.3 505.2 808.9 505.9C811.5 506.5 814.1 507.2 816.7 508C819.2 508.9 821.7 510 824.3 510.8C826.8 511.6 829.4 512.2 832.1 512.5C834.7 512.9 838.9 513 840.2 513.1M801.1 504.1C802.3 504.5 805.9 505.5 808.2 506.6C810.5 507.7 812.4 510 814.8 510.7C817.2 511.5 819.9 511 822.4 511C825 511.1 827.8 510.3 830.2 510.7C832.7 511.2 836 513.1 837.2 513.6M801.1 504.1C802.2 504.3 805.7 504.9 808 505.6C810.2 506.3 812.4 507.2 814.5 508.2C816.7 509.2 818.7 510.6 820.9 511.5C823.1 512.4 825.3 513.2 827.6 513.6C829.9 514 833.6 513.9 834.8 514M801.1 504.1C802.3 504.7 806 507 808.5 507.9C811.1 508.9 813.8 509.5 816.5 510C819.2 510.5 822.2 510.2 824.8 511C827.5 511.8 831 514.2 832.3 514.8M801.1 504.1C802.3 504.5 805.9 505.5 808.3 506.4C810.6 507.2 813 508.1 815.3 509.2C817.5 510.3 819.6 511.9 822 512.8C824.3 513.8 828.1 514.4 829.3 514.7M801.1 504.1C802.4 504.9 806.3 507.3 809.1 508.6C811.8 509.9 814.5 511.3 817.5 511.9C820.5 512.6 825.4 512.4 827 512.5M801.1 504.1C802.2 504.9 805.5 507.7 808 508.7C810.5 509.6 813.5 509.4 816.2 509.9C818.9 510.4 822.8 511.5 824.1 511.8M801.1 504.1C802.2 504.8 805.2 507.3 807.6 508.1C810 509 812.9 508.4 815.4 509.1C817.8 509.8 821 511.9 822.2 512.4M801.1 504.1C802 504.7 804.6 506.7 806.5 507.6C808.5 508.5 810.7 508.9 812.8 509.5C814.8 510.2 817.9 511.3 818.9 511.7M801.1 504.1C802 504.6 804.7 505.9 806.4 507.1C808 508.2 809.4 509.9 811 511C812.7 512.2 815.4 513.5 816.2 514M801.1 504.1C801.8 504.7 803.8 506.7 805.3 507.8C806.8 508.8 808.5 509.6 810 510.6C811.6 511.6 813.9 513.1 814.7 513.6M801.1 504.1C801.6 504.7 803.3 506.6 804.4 507.8C805.5 509.1 806.7 510.3 807.7 511.6C808.7 512.9 810 515 810.5 515.7M801.1 504.1C801.5 504.8 802.7 506.8 803.4 508.1C804.2 509.5 804.9 510.9 805.5 512.3C806.2 513.7 807.1 515.9 807.4 516.6M801.1 504.1C801.4 504.8 802.1 506.9 802.7 508.3C803.3 509.7 804.1 511 804.7 512.3C805.3 513.7 806 515.9 806.3 516.6M801.1 504.1C801.2 504.8 801.2 507.1 801.5 508.5C801.7 510 802.2 511.4 802.8 512.7C803.4 514.1 804.7 516.1 805 516.7M801.1 504.1C801.2 504.8 801.6 506.9 801.6 508.3C801.6 509.7 801.3 511.1 801.1 512.6C800.9 514 800.5 516.1 800.4 516.8M801.1 504.1C801 504.8 800.9 506.9 800.7 508.3C800.5 509.7 800.4 511.1 800 512.5C799.6 513.9 798.7 515.8 798.5 516.5M801.1 504.1C800.9 504.8 800.5 507.1 800.1 508.6C799.7 510 799.3 511.5 798.5 512.8C797.8 514.1 796.3 515.9 795.8 516.5M801.1 504.1C800.8 504.9 800 507.3 799.3 508.8C798.6 510.3 797.8 511.8 796.8 513C795.7 514.3 793.6 515.9 793 516.5M801.1 504.1C800.6 504.8 798.9 507 797.9 508.5C796.9 510.1 796.2 511.9 795.2 513.4C794.1 514.9 792.1 516.7 791.4 517.4M801.1 504.1C800.5 504.9 798.5 507.2 797.3 508.7C796 510.3 794.9 512 793.5 513.4C792 514.8 789.4 516.3 788.6 516.9M801.1 504.1C800.3 504.9 798 507.3 796.6 508.9C795.1 510.6 794 512.7 792.1 513.9C790.3 515.1 786.6 515.7 785.5 516.1M801.1 504.1C800.1 504.8 797 507 795 508.5C793 510.1 791.4 512.3 789.1 513.4C786.9 514.5 782.8 514.8 781.5 515.1M801.1 504.1C799.9 504.7 796.4 506.3 794.2 507.6C791.9 508.9 790 510.9 787.7 512.1C785.5 513.4 781.8 514.9 780.7 515.4M801.1 504.1C799.8 504.6 795.8 506.1 793.2 506.9C790.5 507.8 787.5 508 785 509.2C782.4 510.3 779 513.1 777.8 513.9M801.1 504.1C799.7 504.6 795.3 506 792.5 507.1C789.7 508.3 787.1 510.3 784.2 511.1C781.2 511.9 776.4 511.7 774.8 511.9M801.1 504.1C799.9 504.5 796.2 505.2 793.9 506.2C791.6 507.2 789.5 509.2 787.2 510.1C784.8 510.9 782.3 511.3 779.7 511.4C777.2 511.6 773.2 511.3 771.9 511.2M801.1 504.1C799.7 504.3 795.6 504.7 793 505.5C790.3 506.3 787.9 507.8 785.3 508.8C782.7 509.7 780.2 510.7 777.4 511.2C774.7 511.6 770.4 511.4 769 511.4M801.1 504.1C800 504.5 796.7 505.7 794.4 506.2C792.1 506.8 789.7 506.7 787.4 507.2C785.1 507.7 782.9 508.7 780.7 509.4C778.5 510.1 776.3 511.1 774 511.6C771.7 512 768.1 512 766.9 512.1M801.1 504.1C799.9 504.4 796.2 505.8 793.7 506.2C791.1 506.6 788.4 505.9 785.8 506.4C783.3 506.9 780.9 508.2 778.5 509.2C776.1 510.1 773.7 511.5 771.2 512C768.7 512.4 764.6 511.8 763.3 511.8M801.1 504.1C799.8 504.4 795.8 505.4 793.1 505.7C790.3 506 787.5 505.5 784.8 506C782.1 506.4 779.5 507.4 776.9 508.3C774.2 509.1 771.7 510.5 769 511.1C766.4 511.7 762.2 511.6 760.8 511.7M801.1 504.1C799.9 504.5 796.5 505.8 794.2 506.3C791.8 506.8 789.5 507.1 787 507.1C784.6 507 782 505.7 779.6 505.9C777.2 506.1 775 507.5 772.7 508.3C770.4 509.2 768.2 510.7 765.9 511C763.5 511.2 759.7 510 758.5 509.8M801.1 504.1C799.9 504.5 796.3 506.2 793.8 506.6C791.3 506.9 788.7 506.4 786.2 506.3C783.6 506.1 781 505.2 778.5 505.6C776 506 773.7 507.8 771.2 508.6C768.8 509.3 766.4 510.2 763.8 510.1C761.3 510 757.3 508.4 756 508.1M801.1 504.1C799.8 504.3 795.8 505.2 793.2 505.4C790.5 505.6 787.9 505.3 785.2 505.3C782.5 505.2 779.8 504.8 777.2 505C774.5 505.2 771.9 506.2 769.3 506.6C766.6 507 764 507.6 761.3 507.7C758.7 507.7 754.6 507 753.3 506.8M801.1 504.1C799.9 504.1 796.4 504 794.1 504.3C791.8 504.6 789.4 505.6 787.1 505.8C784.8 506.1 782.4 505.9 780.1 505.6C777.7 505.4 775.4 504.5 773 504.2C770.7 504 768.3 503.7 766 503.9C763.6 504.1 761.3 504.9 759 505.4C756.7 506 753.2 506.8 752 507.1M801.1 504.1C799.9 504.2 796.2 504.4 793.8 504.8C791.4 505.2 788.9 506.3 786.5 506.2C784.1 506.2 781.6 504.9 779.2 504.3C776.8 503.7 774.4 502.7 771.9 502.6C769.5 502.6 767.1 503.5 764.6 504C762.2 504.6 759.7 505.7 757.3 505.7C754.9 505.7 751.2 504.4 750 504.1M801.1 504.1C799.8 504 796 503.6 793.5 503.8C790.9 503.9 788.4 504.9 785.8 505.2C783.3 505.5 780.7 505.7 778.2 505.4C775.6 505.2 773.1 504.2 770.6 503.7C768.1 503.2 765.6 502.6 763 502.5C760.5 502.3 757.9 502.8 755.4 503C752.8 503.1 749 503.2 747.7 503.3M801.1 504.1C799.8 504.1 795.8 504.3 793.2 504.2C790.6 504 788 503.2 785.4 503.1C782.7 503 780.1 503.7 777.4 503.8C774.8 503.9 772.2 503.9 769.5 503.6C766.9 503.3 764.4 502.2 761.7 501.9C759.1 501.7 756.5 502 753.8 502C751.2 502 747.3 502 745.9 501.9M801.1 504.1C799.9 504 796.3 503.5 793.9 503.5C791.5 503.6 789 504.1 786.6 504.2C784.1 504.3 781.7 504.4 779.3 504.2C776.9 503.9 774.5 503.1 772.1 502.7C769.7 502.3 767.4 501.8 765 501.6C762.5 501.5 760.1 501.8 757.7 501.8C755.3 501.8 752.8 502 750.4 501.8C748 501.5 744.4 500.5 743.3 500.2M801.1 504.1C799.9 504 796.1 503.7 793.6 503.6C791.1 503.4 788.6 503 786.1 503.1C783.6 503.2 781 503.9 778.5 504.1C775.9 504.3 773.4 504.5 770.9 504.3C768.4 504 766 503.1 763.5 502.5C761.1 501.8 758.6 500.8 756.2 500.4C753.7 499.9 751.2 499.9 748.7 499.8C746.2 499.7 742.4 499.8 741.1 499.8M801.1 504.1C799.8 504.3 795.8 504.9 793.2 505C790.6 505.2 787.9 505.5 785.4 505C782.8 504.5 780.4 502.3 777.9 501.8C775.3 501.4 772.6 501.9 770 502.2C767.4 502.5 764.6 503.9 762 503.6C759.5 503.4 757 501.6 754.5 500.6C752 499.6 749.6 498 747 497.7C744.4 497.4 740.4 498.5 739.1 498.6M801.1 504.1C799.9 504.1 796.2 504.3 793.7 504.4C791.3 504.4 788.8 504.7 786.4 504.5C784 504.2 781.6 503.2 779.2 502.8C776.8 502.4 774.4 502 772 501.9C769.6 501.8 767.1 502.3 764.6 502.2C762.2 502.1 759.8 501.9 757.4 501.3C755 500.7 752.7 499.5 750.3 498.8C748 498.1 745.6 497.5 743.2 497.1C740.8 496.7 737.2 496.6 735.9 496.5M801.1 504.1C799.8 504.1 796 504 793.4 504.1C790.8 504.2 788.2 504.7 785.6 504.6C783.1 504.4 780.6 503.8 778.1 503.2C775.6 502.7 773.2 501.7 770.7 501.2C768.2 500.7 765.7 500.5 763.2 500.3C760.6 500.2 758 500.4 755.5 500.2C752.9 500 750.4 499.7 748 499C745.5 498.3 743.1 497.1 740.7 496.1C738.3 495.1 734.6 493.7 733.4 493.2M801.1 504.1C799.8 503.9 796 503.3 793.4 503.1C790.8 502.9 788.1 503 785.5 503.1C782.9 503.1 780.2 503.6 777.6 503.2C775.1 502.8 772.7 501.3 770.2 500.7C767.6 500.1 765 500 762.4 499.8C759.8 499.6 757.1 500.1 754.6 499.6C752 499.1 749.7 497.4 747.2 496.6C744.7 495.8 742.2 495.1 739.6 494.6C737.1 494.2 733.2 494.1 731.9 494M801.1 504.1C799.9 503.8 796.4 502.8 793.9 502.5C791.5 502.2 788.9 502.4 786.4 502.6C783.9 502.8 781.2 503.6 778.7 503.5C776.2 503.5 773.8 503.1 771.5 502.3C769.1 501.6 766.9 500.1 764.6 499.2C762.3 498.2 760 497.1 757.6 496.5C755.2 496 752.7 496.1 750.2 495.9C747.8 495.8 745.2 496.1 742.8 495.7C740.4 495.2 738 494.4 735.8 493.3C733.5 492.2 730.2 489.7 729.1 489M801.1 504.1C799.8 504.2 795.7 505 793.3 504.6C790.8 504.2 788.6 502.3 786.2 501.7C783.8 501 781.3 500.7 778.7 500.7C776.1 500.7 773.2 502 770.7 501.9C768.2 501.7 765.8 500.9 763.5 499.8C761.1 498.8 759.1 496.5 756.7 495.5C754.4 494.6 751.8 494.5 749.3 494.3C746.8 494 744 494.8 741.6 494.1C739.2 493.4 737 491.7 734.8 490.2C732.6 488.7 729.3 486 728.3 485.1M801.1 504.1C799.8 504 796 503.5 793.4 503.5C790.7 503.5 787.9 504.3 785.3 504C782.7 503.7 780.4 502.7 778 501.8C775.6 500.8 773.4 499.1 771 498.3C768.6 497.5 766 497 763.5 496.8C760.9 496.5 758.1 497 755.6 496.7C753 496.4 750.5 495.9 748.1 494.9C745.8 493.8 743.7 491.9 741.4 490.4C739.1 489 737 487.3 734.6 486.2C732.2 485.2 728.4 484.6 727.2 484.3M801.1 504.1C799.9 504 796.2 503.8 793.8 503.3C791.4 502.8 789.3 501.7 786.9 501.2C784.6 500.6 782.1 500.4 779.7 500.2C777.2 499.9 774.7 500.1 772.2 499.8C769.8 499.6 767.4 499.3 765.1 498.5C762.8 497.8 760.7 496.6 758.5 495.5C756.3 494.4 754.2 493 752 491.9C749.8 490.9 747.6 490.1 745.3 489.4C743 488.7 740.6 488.4 738.3 487.7C736 487 733.6 486.4 731.5 485.3C729.3 484.2 726.3 481.8 725.2 481.1M801.1 504.1C799.8 504 795.9 504 793.3 503.8C790.7 503.6 788.1 503.5 785.7 502.8C783.3 502.1 781.2 500.8 778.9 499.8C776.6 498.9 774.3 497.9 771.9 497.3C769.4 496.7 766.8 496.7 764.3 496.3C761.8 495.9 759.2 495.7 756.9 494.9C754.5 494.1 752.4 492.7 750.2 491.4C748.1 490.1 746.1 488.2 743.9 486.9C741.7 485.6 739.5 484.5 737.2 483.6C734.9 482.7 732.4 482.3 730.1 481.3C727.8 480.3 724.5 478.3 723.4 477.7M801.1 504.1C799.7 504.1 795.6 504.3 792.9 504C790.3 503.8 787.7 503.4 785.3 502.5C783 501.6 780.9 499.9 778.6 498.8C776.3 497.7 774 496.6 771.5 496C769 495.4 766.3 495.4 763.7 495C761.1 494.6 758.4 494.6 756 493.8C753.6 492.9 751.4 491.6 749.3 490.1C747.1 488.6 745.3 486.4 743.2 484.8C741.1 483.2 738.9 481.6 736.7 480.5C734.4 479.3 731.8 478.8 729.5 477.9C727.1 477 723.6 475.4 722.4 474.9" stroke-width="1.1"/></g>
<path d="M724.7 470.7C724.7 468.3 725 466 725.8 463.6C726.7 461.3 728.1 458.7 729.9 456.7C731.8 454.7 734.2 452.7 736.9 451.5C739.7 450.2 742.7 449.7 746.2 449.5C749.7 449.3 753.9 449.9 757.8 450.3C761.7 450.7 765.7 451.8 769.4 452C773.1 452.2 776.8 451.9 779.9 451.5C783 451 784.9 449.8 788 449.1C791.2 448.4 795.1 447.5 799.1 447.4C803 447.2 807.6 447.7 811.6 448.3C815.7 448.9 819.3 450 823.2 450.9C827.1 451.8 831 453 834.9 453.8C838.8 454.5 842.7 455.4 846.5 455.4C850.4 455.4 854.7 454.1 858.1 453.8C861.6 453.5 864.3 453.2 867.4 453.8C870.5 454.4 874.1 455.7 876.8 457.3C879.4 458.9 881.6 461 883.1 463.2C884.6 465.3 885.6 467.7 886 470.1C886.4 472.5 886.2 475.3 885.4 477.7C884.7 480.1 883.2 482.3 881.3 484.6C879.5 486.9 876.7 489.8 874.4 491.6C872.1 493.5 869.9 494.3 867.4 495.6C864.9 497 861.2 498.1 859.3 499.7C857.4 501.4 857.5 503.8 855.8 505.6C854.1 507.3 851.6 508.9 848.9 510.1C846.2 511.4 842.8 512.5 839.5 513.1C836.2 513.7 832.6 513.8 829.1 513.7C825.6 513.6 821.6 512.3 818.6 512.5C815.7 512.7 814 514.1 811.6 514.8C809.3 515.5 806.9 516.4 804.7 516.6C802.5 516.8 801.4 516.3 798.5 516.2C795.5 516.1 790.7 516.6 786.9 516C783 515.4 779.1 513.3 775.3 512.5C771.4 511.7 767 512.1 763.7 511.3C760.4 510.6 757.6 509.3 755.5 507.9C753.3 506.6 752.8 504.6 750.9 503.2C749 501.9 746.4 501.1 743.9 499.7C741.3 498.3 737.9 496.6 735.8 495C733.6 493.5 732.3 492.1 731.1 490.4C729.9 488.6 729.6 486.7 728.8 484.6C727.9 482.5 726.5 480 725.8 477.7C725.1 475.4 724.7 473 724.7 470.7Z" stroke-width="0.8"/>
<path d="M722.7 469.8C722.7 467.4 723 465 723.9 462.6C724.8 460.2 726.2 457.6 728.1 455.5C730 453.4 732.5 451.3 735.3 450.1C738.1 448.9 741.2 448.3 744.8 448.1C748.4 447.9 752.7 448.5 756.7 448.9C760.7 449.3 764.8 450.5 768.6 450.7C772.4 450.9 776.2 450.6 779.4 450.1C782.6 449.6 784.4 448.4 787.7 447.7C791 447 795 446 799 445.9C803 445.8 807.8 446.3 811.9 446.9C816 447.5 819.8 448.6 823.8 449.5C827.8 450.4 831.8 451.7 835.8 452.5C839.8 453.3 843.7 454.1 847.7 454.1C851.7 454.1 856 452.8 859.6 452.5C863.2 452.2 865.9 451.9 869.1 452.5C872.3 453.1 876 454.5 878.7 456.1C881.4 457.7 883.6 459.9 885.2 462.1C886.8 464.3 887.8 466.7 888.2 469.2C888.6 471.7 888.4 474.5 887.6 477C886.8 479.5 885.3 481.7 883.4 484.1C881.5 486.5 878.7 489.4 876.3 491.3C873.9 493.2 871.7 494 869.1 495.4C866.5 496.8 862.8 497.9 860.8 499.6C858.8 501.3 859 503.8 857.2 505.6C855.4 507.4 852.9 509 850.1 510.3C847.3 511.6 843.9 512.7 840.5 513.3C837.1 513.9 833.4 514 829.8 513.9C826.2 513.8 822.1 512.5 819.1 512.7C816.1 512.9 814.3 514.4 811.9 515.1C809.5 515.8 807 516.7 804.8 516.9C802.5 517.1 801.4 516.6 798.4 516.5C795.4 516.4 790.5 516.9 786.5 516.3C782.5 515.7 778.6 513.5 774.6 512.7C770.6 511.9 766.1 512.3 762.7 511.5C759.3 510.7 756.5 509.4 754.3 508C752.1 506.6 751.6 504.6 749.6 503.2C747.6 501.8 745 501 742.4 499.6C739.8 498.2 736.3 496.4 734.1 494.8C731.9 493.2 730.5 491.8 729.3 490C728.1 488.2 727.8 486.3 726.9 484.1C726 481.9 724.6 479.4 723.9 477C723.2 474.6 722.7 472.2 722.7 469.8Z" stroke-width="1.3"/>
<ellipse cx="801" cy="505" rx="7" ry="4" fill="#111" stroke="none" opacity="0.5"/>
<circle cx="801" cy="503.9" r="2.2" fill="#fff" stroke-width="1"/>
<circle cx="801.2" cy="495.5" r="1.1" fill="#fff" stroke="none"/>
<path d="M799.9 459.6V479.4" stroke-width="2.4" stroke="#222"/>
<path d="M793.6 467.7H806.5" stroke-width="0.8"/>
<path d="M796.5 528.6C796.5 527.6 797.5 526.2 798.4 525.5C799.3 524.8 800.7 524.5 802 524.5C803.3 524.5 805.5 525.1 806.4 525.8C807.3 526.5 807.6 527.7 807.6 528.6C807.6 529.5 807.1 530.6 806.2 531.4C805.3 532.1 803.6 533 802.3 533.1C801 533.2 799.4 532.5 798.4 531.7C797.4 531 796.5 529.6 796.5 528.6Z" stroke-width="1.2" stroke="#333"/>
</g>
<text x="65.2" y="32.3" font-size="17" textLength="172.6" lengthAdjust="spacing">Инструкция по сборке</text>
<text x="841.2" y="29.5" font-size="17" textLength="165.8" lengthAdjust="spacing">Габаритные размеры</text>
<text x="596.3" y="75.2" font-size="18" font-weight="bold" stroke="#000" stroke-width="0.3" textLength="135.8" lengthAdjust="spacing">Размеры базы:</text>
<text x="595.6" y="281.4" font-size="18" font-weight="bold" stroke="#000" stroke-width="0.3" textLength="198.8" lengthAdjust="spacing">Габаритные размеры:</text>
<text class="s"><tspan x="788.9" y="119.9" font-size="13.7" textLength="19.4" lengthAdjust="spacingAndGlyphs">100</tspan><tspan x="808.5" y="119.9" font-size="14.4" textLength="13.2" lengthAdjust="spacingAndGlyphs" stroke="#000" stroke-width="0.35">mm</tspan></text>
<text class="s"><tspan x="788.7" y="559.1" font-size="13.7" textLength="19.4" lengthAdjust="spacingAndGlyphs">150</tspan><tspan x="808.4" y="559.1" font-size="14.4" textLength="13.2" lengthAdjust="spacingAndGlyphs" stroke="#000" stroke-width="0.35">mm</tspan></text>
<text class="s"><tspan x="782.1" y="595.8" font-size="13.7" textLength="19.4" lengthAdjust="spacingAndGlyphs">300</tspan><tspan x="801.8" y="595.8" font-size="14.4" textLength="13.2" lengthAdjust="spacingAndGlyphs" stroke="#000" stroke-width="0.35">mm</tspan></text>
<text class="s" transform="translate(910.9 189.7) rotate(-90)"><tspan x="0" y="0" font-size="12.2" textLength="11.7" lengthAdjust="spacingAndGlyphs">20</tspan><tspan x="12" y="0" font-size="12.4" textLength="9.3" lengthAdjust="spacingAndGlyphs" stroke="#000" stroke-width="0.35">mm</tspan></text>
<text class="s" transform="translate(1002.8 450.4) rotate(-90)"><tspan x="0" y="0" font-size="13.7" textLength="12.9" lengthAdjust="spacingAndGlyphs">90</tspan><tspan x="13.2" y="0" font-size="14.4" textLength="13.2" lengthAdjust="spacingAndGlyphs" stroke="#000" stroke-width="0.35">mm</tspan></text>
<text x="344.6" y="687.2" font-size="17" textLength="343" lengthAdjust="spacing">Наименование артикула: CONTESSA AP2.1</text>
</svg></body></html>
